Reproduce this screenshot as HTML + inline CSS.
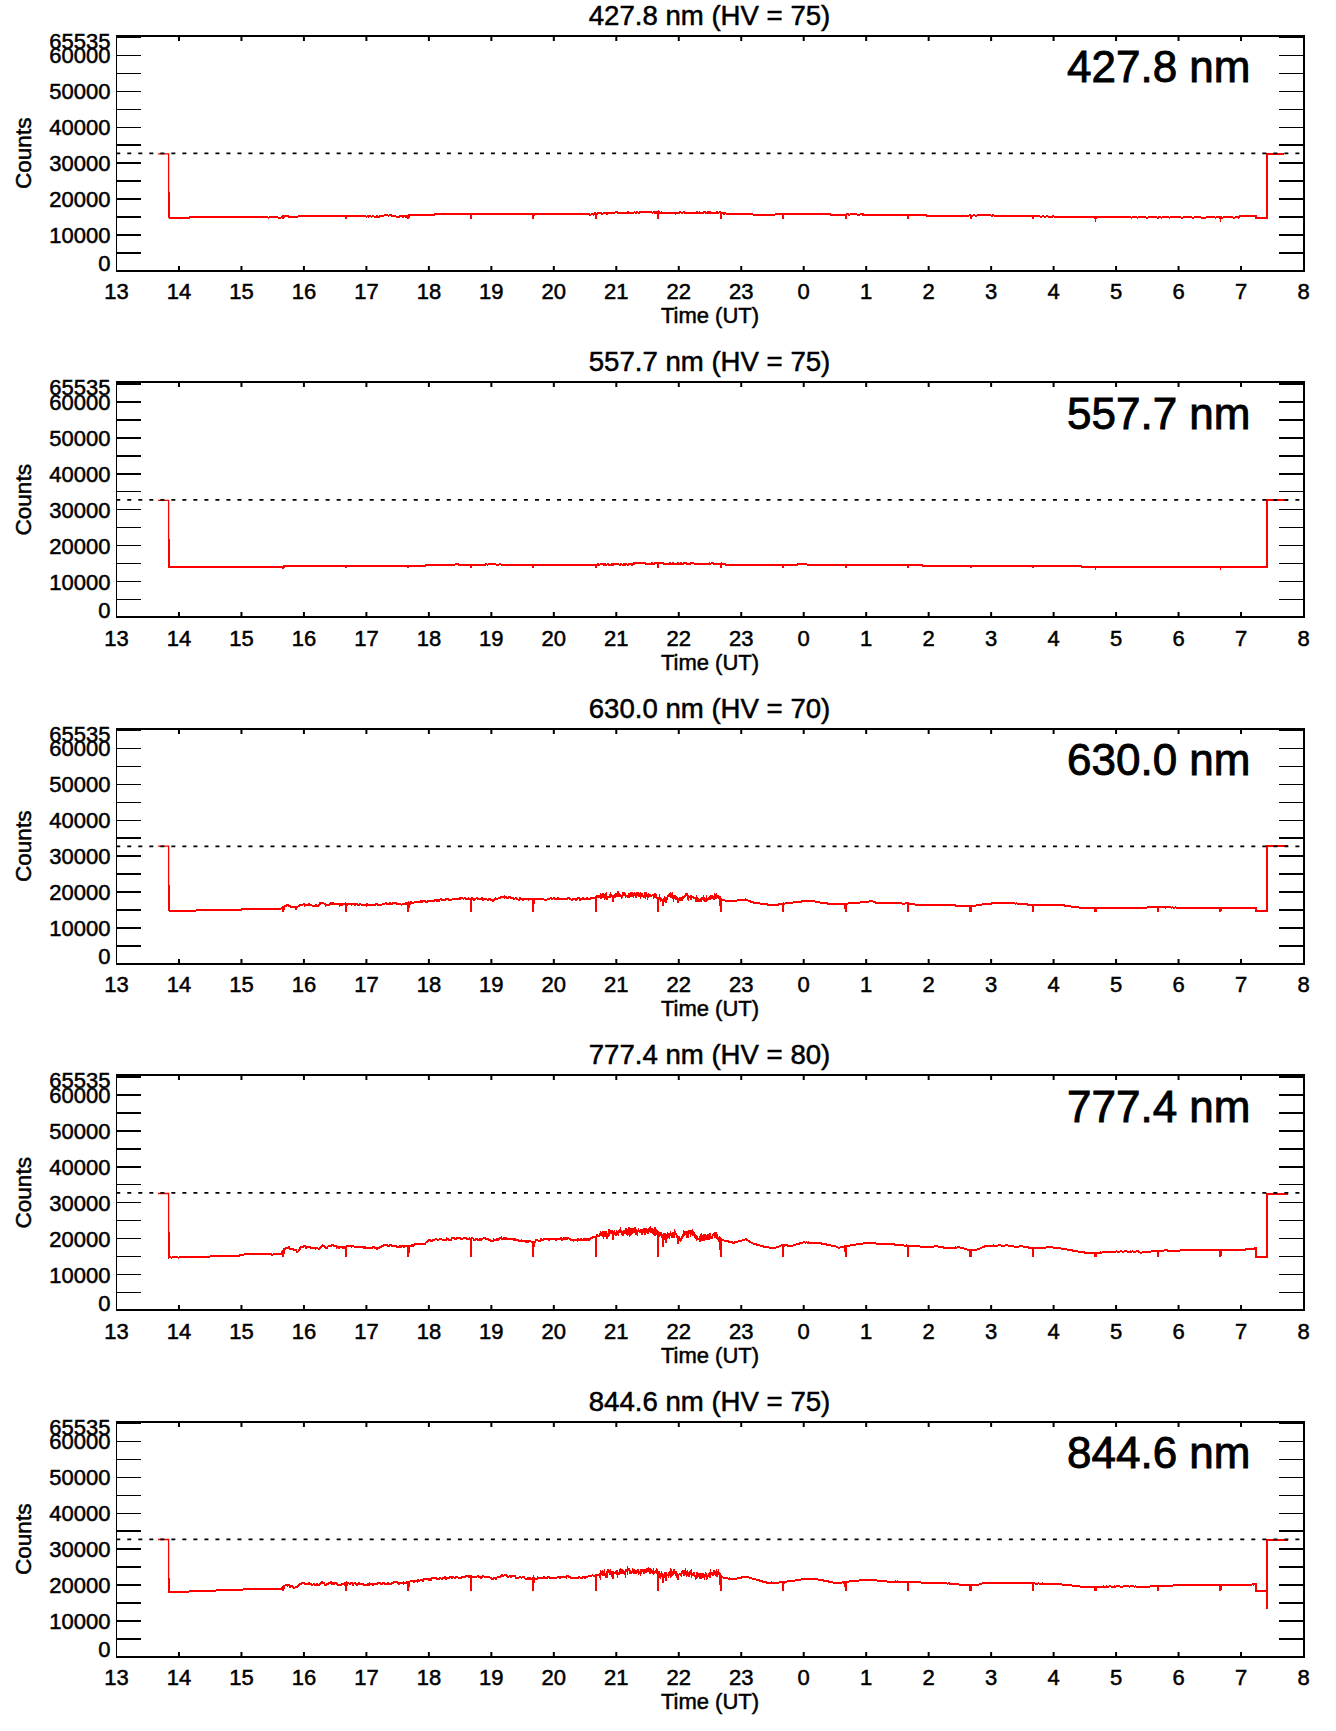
<!DOCTYPE html><html><head><meta charset="utf-8"><style>html,body{margin:0;padding:0;background:#fff;}svg{display:block;}text{font-family:"Liberation Sans",sans-serif;fill:#000;stroke:#000;stroke-width:0.5px;}</style></head><body>
<svg width="1336" height="1731" viewBox="0 0 1336 1731">
<rect width="1336" height="1731" fill="#fff"/>
<g><polyline points="158.0,153.8 168.6,153.8 168.6,192.8" fill="none" stroke="#f00" stroke-width="1.3"/><polyline points="169.0,192.3 169.0,218.3 169.0,218.2 170.0,218.3 171.0,218.4 172.0,218.4 173.0,218.4 174.0,218.3 175.0,218.4 176.0,218.3 177.0,218.2 178.0,218.3 179.0,218.2 180.0,218.4 181.0,218.4 182.0,218.3 183.0,218.2 184.0,218.4 185.0,218.2 186.0,218.2 187.0,218.2 188.0,218.3 189.0,218.3 190.0,216.9 191.0,216.7 192.0,217.0 193.0,216.9 194.0,217.0 195.0,217.0 196.0,216.8 197.0,217.0 198.0,216.9 199.0,216.8 200.0,217.0 201.0,217.1 202.0,217.1 203.0,217.0 204.0,217.2 205.0,217.2 206.0,217.1 207.0,217.1 208.0,217.2 209.0,217.3 210.0,217.1 211.0,217.3 212.0,217.4 213.0,217.3 214.0,217.4 215.0,217.4 216.0,217.3 217.0,217.3 218.0,217.4 219.0,217.4 220.0,217.3 221.0,217.5 222.0,217.3 223.0,217.4 224.0,217.4 225.0,217.4 226.0,217.4 227.0,217.4 228.0,217.2 229.0,217.4 230.0,217.4 231.0,217.3 232.0,217.4 233.0,217.3 234.0,217.3 235.0,217.3 236.0,217.1 237.0,217.3 238.0,217.3 239.0,217.1 240.0,217.3 241.0,217.3 242.0,217.1 243.0,217.1 244.0,217.3 245.0,217.2 246.0,217.2 247.0,217.3 248.0,217.3 249.0,217.3 250.0,217.3 251.0,217.2 252.0,217.1 253.0,217.2 254.0,217.2 255.0,217.3 256.0,217.4 257.0,217.2 258.0,217.3 259.0,217.5 260.0,217.3 261.0,217.4 262.0,217.4 263.0,217.4 264.0,217.4 265.0,217.4 266.0,217.4 267.0,217.3 268.0,217.5 269.0,217.5 270.0,217.3 271.0,217.3 272.0,217.4 273.0,217.3 274.0,217.3 275.0,217.5 276.0,217.3 277.0,217.3 278.0,217.6 279.0,217.5 280.0,217.5 281.0,217.5 282.0,217.2 283.0,216.4 283.3,218.9 283.8,216.4 284.0,216.2 285.0,216.3 286.0,216.3 287.0,216.3 288.0,216.4 289.0,216.6 290.0,216.8 291.0,216.7 292.0,216.9 293.0,216.8 294.0,216.8 295.0,217.0 296.0,216.8 297.0,216.8 298.0,216.5 299.0,216.3 300.0,216.1 301.0,216.1 302.0,216.3 303.0,216.3 304.0,216.1 305.0,216.0 306.0,215.9 307.0,215.9 308.0,215.9 309.0,216.0 310.0,216.0 311.0,216.0 312.0,216.0 313.0,215.8 314.0,215.9 315.0,215.8 316.0,215.9 317.0,215.7 318.0,215.9 319.0,215.6 320.0,215.8 321.0,215.7 322.0,215.8 323.0,215.7 324.0,216.0 325.0,215.7 326.0,216.0 327.0,216.0 328.0,216.0 329.0,215.9 330.0,216.0 331.0,216.1 332.0,216.1 333.0,216.1 334.0,216.3 335.0,216.3 336.0,216.2 337.0,216.3 338.0,216.4 339.0,216.2 340.0,216.3 341.0,216.3 342.0,216.2 343.0,216.3 344.0,216.4 345.0,216.4 346.0,216.3 345.8,218.9 346.3,216.3 347.0,216.3 348.0,216.3 349.0,216.4 350.0,216.5 351.0,216.2 352.0,216.2 353.0,216.4 354.0,216.2 355.0,216.3 356.0,216.3 357.0,216.3 358.0,216.4 359.0,216.3 360.0,216.4 361.0,216.5 362.0,216.3 363.0,216.5 364.0,216.4 365.0,216.3 366.0,216.6 367.0,216.5 368.0,216.4 369.0,216.6 370.0,216.3 371.0,216.6 372.0,216.6 373.0,216.3 374.0,216.6 375.0,216.6 376.0,216.6 377.0,216.4 378.0,216.6 379.0,216.6 380.0,216.4 381.0,216.4 382.0,216.3 383.0,215.8 384.0,215.5 385.0,215.4 386.0,215.5 387.0,215.4 388.0,215.5 389.0,215.5 390.0,215.4 391.0,215.4 392.0,215.6 393.0,216.1 394.0,216.5 395.0,216.4 396.0,216.5 397.0,216.6 398.0,216.6 399.0,216.6 400.0,216.4 401.0,216.5 402.0,216.4 403.0,216.6 404.0,216.4 405.0,216.4 406.0,216.6 407.0,216.4 408.0,215.8 408.3,218.9 408.8,215.8 409.0,215.0 410.0,215.2 411.0,215.1 412.0,215.2 413.0,214.9 414.0,214.9 415.0,215.0 416.0,215.1 417.0,215.0 418.0,215.1 419.0,215.0 420.0,214.8 421.0,214.9 422.0,214.8 423.0,214.8 424.0,214.9 425.0,214.8 426.0,214.9 427.0,214.7 428.0,214.9 429.0,214.7 430.0,214.8 431.0,214.8 432.0,214.5 433.0,214.6 434.0,214.7 435.0,214.4 436.0,214.5 437.0,214.4 438.0,214.3 439.0,214.3 440.0,214.2 441.0,214.2 442.0,214.1 443.0,214.1 444.0,214.2 445.0,214.2 446.0,213.9 447.0,213.8 448.0,213.8 449.0,214.0 450.0,213.7 451.0,213.8 452.0,213.6 453.0,213.6 454.0,213.5 455.0,213.6 456.0,213.5 457.0,213.6 458.0,213.6 459.0,213.7 460.0,213.6 461.0,213.9 462.0,213.8 463.0,214.0 464.0,214.2 465.0,214.2 466.0,214.1 467.0,214.3 468.0,214.1 469.0,214.1 470.0,214.1 471.0,214.1 470.7,218.9 471.2,214.1 472.0,214.0 473.0,214.0 474.0,213.9 475.0,214.1 476.0,214.0 477.0,213.9 478.0,214.0 479.0,213.9 480.0,213.8 481.0,213.8 482.0,213.7 483.0,213.7 484.0,213.6 485.0,213.6 486.0,213.7 487.0,213.8 488.0,213.8 489.0,213.5 490.0,213.7 491.0,213.5 492.0,213.6 493.0,213.6 494.0,213.5 495.0,213.6 496.0,213.6 497.0,213.6 498.0,213.6 499.0,213.7 500.0,213.7 501.0,213.6 502.0,213.7 503.0,213.6 504.0,213.5 505.0,213.8 506.0,213.8 507.0,213.7 508.0,213.8 509.0,213.8 510.0,213.6 511.0,213.9 512.0,213.9 513.0,214.1 514.0,214.0 515.0,214.1 516.0,214.3 517.0,214.2 518.0,214.3 519.0,214.1 520.0,214.3 521.0,214.3 522.0,214.1 523.0,214.1 524.0,214.2 525.0,214.2 526.0,214.2 527.0,214.2 528.0,214.2 529.0,214.3 530.0,214.3 531.0,214.2 532.0,214.2 533.0,214.3 533.2,218.9 533.7,214.2 534.0,214.1 535.0,214.2 536.0,214.3 537.0,214.3 538.0,214.3 539.0,214.3 540.0,214.2 541.0,214.3 542.0,214.1 543.0,214.2 544.0,214.2 545.0,214.3 546.0,214.1 547.0,214.1 548.0,214.2 549.0,214.2 550.0,214.2 551.0,214.3 552.0,214.2 553.0,214.1 554.0,214.2 555.0,214.2 556.0,214.1 557.0,214.2 558.0,214.1 559.0,214.2 560.0,214.3 561.0,214.3 562.0,214.3 563.0,214.1 564.0,214.3 565.0,214.3 566.0,214.1 567.0,214.2 568.0,214.1 569.0,214.1 570.0,214.2 571.0,214.2 572.0,214.2 573.0,214.3 574.0,214.3 575.0,214.1 576.0,214.2 577.0,214.3 578.0,214.1 579.0,214.3 580.0,214.1 581.0,214.2 582.0,214.2 583.0,214.1 584.0,214.1 585.0,214.3 586.0,214.1 587.0,214.2 588.0,214.1 589.0,214.2 590.0,214.8 591.0,214.5 592.0,213.9 593.0,214.6 594.0,213.6 595.0,213.4 596.0,213.5 595.7,218.9 596.2,213.6 597.0,214.1 598.0,213.2 599.0,213.0 600.0,213.3 601.0,213.4 602.0,213.6 603.0,213.5 604.0,213.4 605.0,213.0 606.0,213.1 607.0,213.8 608.0,213.1 609.0,213.5 610.0,212.9 611.0,212.4 612.0,212.9 613.0,213.0 614.0,212.8 615.0,212.5 616.0,212.4 617.0,212.3 618.0,213.1 619.0,212.9 620.0,213.2 621.0,213.3 622.0,213.1 623.0,213.1 624.0,213.2 625.0,213.2 626.0,213.1 627.0,213.1 628.0,212.3 629.0,213.2 630.0,213.0 631.0,212.9 632.0,212.9 633.0,212.7 634.0,212.5 635.0,212.4 636.0,212.9 637.0,212.0 638.0,212.5 639.0,212.9 640.0,212.0 641.0,211.8 642.0,212.0 643.0,212.2 644.0,212.3 645.0,211.9 646.0,211.9 647.0,211.8 648.0,212.3 649.0,211.8 650.0,212.1 651.0,211.8 652.0,212.5 653.0,212.5 654.0,211.9 655.0,213.0 656.0,212.0 657.0,212.9 658.0,212.0 658.1,218.9 658.6,212.3 659.0,212.4 660.0,212.6 661.0,212.6 662.0,212.4 663.0,213.1 664.0,212.9 665.0,212.9 666.0,212.9 667.0,212.6 668.0,212.8 669.0,213.2 670.0,213.2 671.0,213.6 672.0,213.2 673.0,213.6 674.0,212.7 675.0,212.6 676.0,213.6 677.0,212.8 678.0,213.1 679.0,213.5 680.0,212.4 681.0,212.4 682.0,212.9 683.0,212.5 684.0,212.3 685.0,213.3 686.0,213.0 687.0,212.9 688.0,213.2 689.0,212.7 690.0,212.8 691.0,212.8 692.0,213.2 693.0,212.9 694.0,213.1 695.0,213.1 696.0,213.1 697.0,212.3 698.0,213.4 699.0,213.5 700.0,212.4 701.0,213.3 702.0,213.0 703.0,213.3 704.0,212.2 705.0,212.3 706.0,213.0 707.0,213.0 708.0,212.3 709.0,213.3 710.0,212.3 711.0,213.4 712.0,213.3 713.0,213.1 714.0,213.3 715.0,212.5 716.0,213.0 717.0,212.2 718.0,213.2 719.0,212.5 720.0,212.3 721.0,213.4 720.6,218.9 721.1,213.0 722.0,212.5 723.0,213.3 724.0,213.8 725.0,213.3 726.0,213.5 727.0,214.0 728.0,214.2 729.0,214.1 730.0,214.1 731.0,214.3 732.0,214.2 733.0,214.2 734.0,214.2 735.0,214.1 736.0,214.1 737.0,214.0 738.0,214.1 739.0,214.1 740.0,214.0 741.0,214.0 742.0,214.0 743.0,213.9 744.0,214.1 745.0,213.9 746.0,214.1 747.0,214.0 748.0,213.9 749.0,213.9 750.0,214.2 751.0,214.1 752.0,214.2 753.0,214.5 754.0,214.5 755.0,214.5 756.0,214.6 757.0,214.7 758.0,214.8 759.0,214.9 760.0,214.7 761.0,215.0 762.0,215.1 763.0,215.1 764.0,215.0 765.0,214.9 766.0,214.9 767.0,214.8 768.0,214.9 769.0,214.9 770.0,214.8 771.0,214.8 772.0,214.6 773.0,214.7 774.0,214.6 775.0,214.5 776.0,214.3 777.0,214.5 778.0,214.3 779.0,214.3 780.0,214.3 781.0,214.1 782.0,214.1 783.0,214.2 783.1,218.9 783.6,214.2 784.0,214.3 785.0,214.2 786.0,214.2 787.0,214.3 788.0,214.3 789.0,214.2 790.0,214.3 791.0,214.2 792.0,214.1 793.0,214.3 794.0,214.1 795.0,214.1 796.0,214.2 797.0,214.2 798.0,214.3 799.0,214.1 800.0,214.2 801.0,214.1 802.0,214.3 803.0,214.2 804.0,214.3 805.0,214.3 806.0,214.2 807.0,214.1 808.0,214.3 809.0,214.1 810.0,214.3 811.0,214.1 812.0,214.2 813.0,214.2 814.0,214.2 815.0,214.2 816.0,214.3 817.0,214.3 818.0,214.1 819.0,214.2 820.0,214.1 821.0,214.3 822.0,214.2 823.0,214.3 824.0,214.1 825.0,214.3 826.0,214.2 827.0,214.1 828.0,214.1 829.0,214.2 830.0,214.4 831.0,214.6 832.0,214.9 833.0,215.2 834.0,215.0 835.0,215.0 836.0,215.1 837.0,214.8 838.0,214.8 839.0,214.9 840.0,214.8 841.0,214.9 842.0,214.8 843.0,214.6 844.0,214.7 845.0,214.6 846.0,214.6 845.6,218.9 846.1,214.6 847.0,214.4 848.0,214.4 849.0,214.6 850.0,214.5 851.0,214.3 852.0,214.3 853.0,214.5 854.0,214.4 855.0,214.3 856.0,214.4 857.0,214.5 858.0,214.5 859.0,214.5 860.0,214.5 861.0,214.3 862.0,214.6 863.0,214.4 864.0,214.7 865.0,214.7 866.0,214.7 867.0,214.7 868.0,214.8 869.0,214.7 870.0,214.8 871.0,214.9 872.0,214.7 873.0,214.8 874.0,215.0 875.0,214.8 876.0,214.9 877.0,215.1 878.0,215.0 879.0,215.0 880.0,215.1 881.0,215.1 882.0,215.1 883.0,215.3 884.0,215.1 885.0,215.2 886.0,215.3 887.0,215.2 888.0,215.3 889.0,215.3 890.0,215.1 891.0,215.1 892.0,215.1 893.0,215.1 894.0,215.1 895.0,215.2 896.0,215.4 897.0,215.4 898.0,215.3 899.0,215.3 900.0,215.3 901.0,215.4 902.0,215.2 903.0,215.3 904.0,215.2 905.0,215.2 906.0,215.3 907.0,215.3 908.0,215.2 908.0,218.9 908.5,215.3 909.0,215.3 910.0,215.2 911.0,215.2 912.0,215.4 913.0,215.2 914.0,215.2 915.0,215.3 916.0,215.2 917.0,215.4 918.0,215.3 919.0,215.3 920.0,215.3 921.0,215.4 922.0,215.4 923.0,215.4 924.0,215.5 925.0,215.4 926.0,215.4 927.0,215.7 928.0,215.7 929.0,215.7 930.0,215.6 931.0,215.8 932.0,215.6 933.0,215.6 934.0,215.9 935.0,215.8 936.0,215.8 937.0,215.8 938.0,215.9 939.0,215.9 940.0,216.0 941.0,215.9 942.0,216.0 943.0,216.0 944.0,216.1 945.0,216.1 946.0,215.8 947.0,215.9 948.0,216.0 949.0,216.0 950.0,215.9 951.0,215.9 952.0,216.0 953.0,215.8 954.0,215.7 955.0,215.7 956.0,215.7 957.0,215.8 958.0,215.8 959.0,215.9 960.0,215.7 961.0,215.6 962.0,215.6 963.0,215.7 964.0,215.5 965.0,215.5 966.0,215.6 967.0,215.7 968.0,215.5 969.0,215.5 970.0,215.4 971.0,215.7 970.5,218.9 971.0,215.5 972.0,215.6 973.0,215.5 974.0,215.3 975.0,215.6 976.0,215.5 977.0,215.5 978.0,215.4 979.0,215.4 980.0,215.3 981.0,215.4 982.0,215.2 983.0,215.2 984.0,215.3 985.0,215.3 986.0,215.4 987.0,215.4 988.0,215.3 989.0,215.4 990.0,215.3 991.0,215.6 992.0,215.6 993.0,215.4 994.0,215.5 995.0,215.6 996.0,215.7 997.0,215.7 998.0,215.6 999.0,215.7 1000.0,215.8 1001.0,215.9 1002.0,215.7 1003.0,215.7 1004.0,215.9 1005.0,215.9 1006.0,215.8 1007.0,215.9 1008.0,215.9 1009.0,215.8 1010.0,216.0 1011.0,216.1 1012.0,216.0 1013.0,216.2 1014.0,216.2 1015.0,216.0 1016.0,216.2 1017.0,216.2 1018.0,216.2 1019.0,216.1 1020.0,216.2 1021.0,216.3 1022.0,216.2 1023.0,216.4 1024.0,216.3 1025.0,216.3 1026.0,216.3 1027.0,216.3 1028.0,216.2 1029.0,216.3 1030.0,216.2 1031.0,216.3 1032.0,216.2 1033.0,216.3 1033.0,218.9 1033.5,216.3 1034.0,216.4 1035.0,216.5 1036.0,216.4 1037.0,216.4 1038.0,216.5 1039.0,216.3 1040.0,216.5 1041.0,216.6 1042.0,216.5 1043.0,216.4 1044.0,216.5 1045.0,216.6 1046.0,216.5 1047.0,216.4 1048.0,216.5 1049.0,216.6 1050.0,216.5 1051.0,216.5 1052.0,216.7 1053.0,216.4 1054.0,216.5 1055.0,216.7 1056.0,216.7 1057.0,216.7 1058.0,216.8 1059.0,216.6 1060.0,216.7 1061.0,216.6 1062.0,216.7 1063.0,216.6 1064.0,216.8 1065.0,216.6 1066.0,216.8 1067.0,216.7 1068.0,216.8 1069.0,216.7 1070.0,216.6 1071.0,216.7 1072.0,216.7 1073.0,217.0 1074.0,216.8 1075.0,217.1 1076.0,217.0 1077.0,217.1 1078.0,217.3 1079.0,217.3 1080.0,217.3 1081.0,217.3 1082.0,217.3 1083.0,217.4 1084.0,217.4 1085.0,217.4 1086.0,217.3 1087.0,217.4 1088.0,217.4 1089.0,217.3 1090.0,217.4 1091.0,217.3 1092.0,217.4 1093.0,217.3 1094.0,217.4 1095.0,217.3 1095.5,218.9 1096.0,217.4 1096.0,217.4 1097.0,217.4 1098.0,217.5 1099.0,217.3 1100.0,217.3 1101.0,217.4 1102.0,217.5 1103.0,217.3 1104.0,217.5 1105.0,217.3 1106.0,217.4 1107.0,217.3 1108.0,217.4 1109.0,217.5 1110.0,217.4 1111.0,217.3 1112.0,217.4 1113.0,217.5 1114.0,217.3 1115.0,217.5 1116.0,217.4 1117.0,217.5 1118.0,217.3 1119.0,217.5 1120.0,217.3 1121.0,217.5 1122.0,217.3 1123.0,217.3 1124.0,217.3 1125.0,217.3 1126.0,217.5 1127.0,217.3 1128.0,217.4 1129.0,217.4 1130.0,217.3 1131.0,217.5 1132.0,217.5 1133.0,217.4 1134.0,217.3 1135.0,217.3 1136.0,217.4 1137.0,217.5 1138.0,217.5 1139.0,217.3 1140.0,217.3 1141.0,217.5 1142.0,217.4 1143.0,217.3 1144.0,217.5 1145.0,217.3 1146.0,217.5 1147.0,217.5 1148.0,217.5 1149.0,217.3 1150.0,217.4 1151.0,217.5 1152.0,217.3 1153.0,217.3 1154.0,217.3 1155.0,217.4 1156.0,217.4 1157.0,217.5 1158.0,217.5 1157.9,218.9 1158.4,217.4 1159.0,217.4 1160.0,217.4 1161.0,217.5 1162.0,217.5 1163.0,217.3 1164.0,217.3 1165.0,217.4 1166.0,217.3 1167.0,217.5 1168.0,217.3 1169.0,217.5 1170.0,217.5 1171.0,217.4 1172.0,217.4 1173.0,217.4 1174.0,217.3 1175.0,217.5 1176.0,217.4 1177.0,217.4 1178.0,217.3 1179.0,217.4 1180.0,217.4 1181.0,217.5 1182.0,217.5 1183.0,217.5 1184.0,217.3 1185.0,217.4 1186.0,217.4 1187.0,217.5 1188.0,217.3 1189.0,217.3 1190.0,217.3 1191.0,217.3 1192.0,217.5 1193.0,217.5 1194.0,217.5 1195.0,217.4 1196.0,217.4 1197.0,217.3 1198.0,217.4 1199.0,217.4 1200.0,217.4 1201.0,217.5 1202.0,217.5 1203.0,217.5 1204.0,217.5 1205.0,217.5 1206.0,217.5 1207.0,217.4 1208.0,217.5 1209.0,217.3 1210.0,217.4 1211.0,217.4 1212.0,217.3 1213.0,217.5 1214.0,217.3 1215.0,217.5 1216.0,217.5 1217.0,217.3 1218.0,217.5 1219.0,217.4 1220.0,217.5 1220.4,218.9 1220.9,217.4 1221.0,217.3 1222.0,217.5 1223.0,217.5 1224.0,217.4 1225.0,217.4 1226.0,217.4 1227.0,217.3 1228.0,217.5 1229.0,217.4 1230.0,217.4 1231.0,217.4 1232.0,217.3 1233.0,217.5 1234.0,217.5 1235.0,217.5 1236.0,217.4 1237.0,217.4 1238.0,217.5 1239.0,217.5 1240.0,216.2 1241.0,216.2 1242.0,216.2 1243.0,216.0 1244.0,216.1 1245.0,216.1 1246.0,216.0 1247.0,216.1 1248.0,216.0 1249.0,216.1 1250.0,216.0 1251.0,216.1 1252.0,216.0 1253.0,216.2 1254.0,216.0 1255.0,216.0 1256.0,216.1 1256.0,218.1 1266.8,218.1 1266.8,153.8 1284.4,153.8" fill="none" stroke="#f00" stroke-width="2" stroke-linejoin="miter" shape-rendering="crispEdges"/><line x1="116.25" y1="153.3" x2="1303" y2="153.3" stroke="#000" stroke-width="1.8" stroke-dasharray="4,7.02"/><rect x="116" y="35" width="1189" height="2" fill="#000"/><rect x="116" y="270" width="1189" height="2" fill="#000"/><rect x="116" y="35" width="1" height="237" fill="#000"/><rect x="1303" y="35" width="2" height="237" fill="#000"/><line x1="116" y1="271.00" x2="141" y2="271.00" stroke="#000" stroke-width="1.5" shape-rendering="crispEdges"/><line x1="1279" y1="271.00" x2="1304" y2="271.00" stroke="#000" stroke-width="1.5" shape-rendering="crispEdges"/><line x1="116" y1="253.03" x2="141" y2="253.03" stroke="#000" stroke-width="1.5" shape-rendering="crispEdges"/><line x1="1279" y1="253.03" x2="1304" y2="253.03" stroke="#000" stroke-width="1.5" shape-rendering="crispEdges"/><line x1="116" y1="235.07" x2="141" y2="235.07" stroke="#000" stroke-width="1.5" shape-rendering="crispEdges"/><line x1="1279" y1="235.07" x2="1304" y2="235.07" stroke="#000" stroke-width="1.5" shape-rendering="crispEdges"/><line x1="116" y1="217.10" x2="141" y2="217.10" stroke="#000" stroke-width="1.5" shape-rendering="crispEdges"/><line x1="1279" y1="217.10" x2="1304" y2="217.10" stroke="#000" stroke-width="1.5" shape-rendering="crispEdges"/><line x1="116" y1="199.13" x2="141" y2="199.13" stroke="#000" stroke-width="1.5" shape-rendering="crispEdges"/><line x1="1279" y1="199.13" x2="1304" y2="199.13" stroke="#000" stroke-width="1.5" shape-rendering="crispEdges"/><line x1="116" y1="181.16" x2="141" y2="181.16" stroke="#000" stroke-width="1.5" shape-rendering="crispEdges"/><line x1="1279" y1="181.16" x2="1304" y2="181.16" stroke="#000" stroke-width="1.5" shape-rendering="crispEdges"/><line x1="116" y1="163.20" x2="141" y2="163.20" stroke="#000" stroke-width="1.5" shape-rendering="crispEdges"/><line x1="1279" y1="163.20" x2="1304" y2="163.20" stroke="#000" stroke-width="1.5" shape-rendering="crispEdges"/><line x1="116" y1="145.23" x2="141" y2="145.23" stroke="#000" stroke-width="1.5" shape-rendering="crispEdges"/><line x1="1279" y1="145.23" x2="1304" y2="145.23" stroke="#000" stroke-width="1.5" shape-rendering="crispEdges"/><line x1="116" y1="127.26" x2="141" y2="127.26" stroke="#000" stroke-width="1.5" shape-rendering="crispEdges"/><line x1="1279" y1="127.26" x2="1304" y2="127.26" stroke="#000" stroke-width="1.5" shape-rendering="crispEdges"/><line x1="116" y1="109.29" x2="141" y2="109.29" stroke="#000" stroke-width="1.5" shape-rendering="crispEdges"/><line x1="1279" y1="109.29" x2="1304" y2="109.29" stroke="#000" stroke-width="1.5" shape-rendering="crispEdges"/><line x1="116" y1="91.33" x2="141" y2="91.33" stroke="#000" stroke-width="1.5" shape-rendering="crispEdges"/><line x1="1279" y1="91.33" x2="1304" y2="91.33" stroke="#000" stroke-width="1.5" shape-rendering="crispEdges"/><line x1="116" y1="73.36" x2="141" y2="73.36" stroke="#000" stroke-width="1.5" shape-rendering="crispEdges"/><line x1="1279" y1="73.36" x2="1304" y2="73.36" stroke="#000" stroke-width="1.5" shape-rendering="crispEdges"/><line x1="116" y1="55.39" x2="141" y2="55.39" stroke="#000" stroke-width="1.5" shape-rendering="crispEdges"/><line x1="1279" y1="55.39" x2="1304" y2="55.39" stroke="#000" stroke-width="1.5" shape-rendering="crispEdges"/><line x1="116" y1="37.42" x2="141" y2="37.42" stroke="#000" stroke-width="1.5" shape-rendering="crispEdges"/><line x1="1279" y1="37.42" x2="1304" y2="37.42" stroke="#000" stroke-width="1.5" shape-rendering="crispEdges"/><line x1="116" y1="35.50" x2="141" y2="35.50" stroke="#000" stroke-width="1.5" shape-rendering="crispEdges"/><line x1="1279" y1="35.50" x2="1304" y2="35.50" stroke="#000" stroke-width="1.5" shape-rendering="crispEdges"/><rect x="177.97" y="37" width="2" height="4" fill="#000"/><rect x="177.97" y="266" width="2" height="4" fill="#000"/><rect x="240.45" y="37" width="2" height="4" fill="#000"/><rect x="240.45" y="266" width="2" height="4" fill="#000"/><rect x="302.92" y="37" width="2" height="4" fill="#000"/><rect x="302.92" y="266" width="2" height="4" fill="#000"/><rect x="365.39" y="37" width="2" height="4" fill="#000"/><rect x="365.39" y="266" width="2" height="4" fill="#000"/><rect x="427.87" y="37" width="2" height="4" fill="#000"/><rect x="427.87" y="266" width="2" height="4" fill="#000"/><rect x="490.34" y="37" width="2" height="4" fill="#000"/><rect x="490.34" y="266" width="2" height="4" fill="#000"/><rect x="552.82" y="37" width="2" height="4" fill="#000"/><rect x="552.82" y="266" width="2" height="4" fill="#000"/><rect x="615.29" y="37" width="2" height="4" fill="#000"/><rect x="615.29" y="266" width="2" height="4" fill="#000"/><rect x="677.76" y="37" width="2" height="4" fill="#000"/><rect x="677.76" y="266" width="2" height="4" fill="#000"/><rect x="740.24" y="37" width="2" height="4" fill="#000"/><rect x="740.24" y="266" width="2" height="4" fill="#000"/><rect x="802.71" y="37" width="2" height="4" fill="#000"/><rect x="802.71" y="266" width="2" height="4" fill="#000"/><rect x="865.18" y="37" width="2" height="4" fill="#000"/><rect x="865.18" y="266" width="2" height="4" fill="#000"/><rect x="927.66" y="37" width="2" height="4" fill="#000"/><rect x="927.66" y="266" width="2" height="4" fill="#000"/><rect x="990.13" y="37" width="2" height="4" fill="#000"/><rect x="990.13" y="266" width="2" height="4" fill="#000"/><rect x="1052.61" y="37" width="2" height="4" fill="#000"/><rect x="1052.61" y="266" width="2" height="4" fill="#000"/><rect x="1115.08" y="37" width="2" height="4" fill="#000"/><rect x="1115.08" y="266" width="2" height="4" fill="#000"/><rect x="1177.55" y="37" width="2" height="4" fill="#000"/><rect x="1177.55" y="266" width="2" height="4" fill="#000"/><rect x="1240.03" y="37" width="2" height="4" fill="#000"/><rect x="1240.03" y="266" width="2" height="4" fill="#000"/><text x="110.5" y="271.0" font-size="22" text-anchor="end">0</text><text x="110.5" y="243.1" font-size="22" text-anchor="end">10000</text><text x="110.5" y="207.1" font-size="22" text-anchor="end">20000</text><text x="110.5" y="171.2" font-size="22" text-anchor="end">30000</text><text x="110.5" y="135.3" font-size="22" text-anchor="end">40000</text><text x="110.5" y="99.3" font-size="22" text-anchor="end">50000</text><text x="110.5" y="63.4" font-size="22" text-anchor="end">60000</text><text x="110.5" y="48.8" font-size="22" text-anchor="end">65535</text><text x="116.5" y="299.0" font-size="22" text-anchor="middle">13</text><text x="179.0" y="299.0" font-size="22" text-anchor="middle">14</text><text x="241.4" y="299.0" font-size="22" text-anchor="middle">15</text><text x="303.9" y="299.0" font-size="22" text-anchor="middle">16</text><text x="366.4" y="299.0" font-size="22" text-anchor="middle">17</text><text x="428.9" y="299.0" font-size="22" text-anchor="middle">18</text><text x="491.3" y="299.0" font-size="22" text-anchor="middle">19</text><text x="553.8" y="299.0" font-size="22" text-anchor="middle">20</text><text x="616.3" y="299.0" font-size="22" text-anchor="middle">21</text><text x="678.8" y="299.0" font-size="22" text-anchor="middle">22</text><text x="741.2" y="299.0" font-size="22" text-anchor="middle">23</text><text x="803.7" y="299.0" font-size="22" text-anchor="middle">0</text><text x="866.2" y="299.0" font-size="22" text-anchor="middle">1</text><text x="928.7" y="299.0" font-size="22" text-anchor="middle">2</text><text x="991.1" y="299.0" font-size="22" text-anchor="middle">3</text><text x="1053.6" y="299.0" font-size="22" text-anchor="middle">4</text><text x="1116.1" y="299.0" font-size="22" text-anchor="middle">5</text><text x="1178.6" y="299.0" font-size="22" text-anchor="middle">6</text><text x="1241.0" y="299.0" font-size="22" text-anchor="middle">7</text><text x="1303.5" y="299.0" font-size="22" text-anchor="middle">8</text><text x="710" y="323.0" font-size="22" text-anchor="middle">Time (UT)</text><text x="709.5" y="24.7" font-size="27.6" text-anchor="middle">427.8 nm (HV = 75)</text><text transform="translate(31.0,153.30) rotate(-90)" font-size="22.6" text-anchor="middle">Counts</text><text x="1250.5" y="82.2" font-size="44" text-anchor="end" style="stroke-width:0.9px">427.8 nm</text></g>
<g><polyline points="158.0,500.4 168.6,500.4 168.6,539.4" fill="none" stroke="#f00" stroke-width="1.3"/><polyline points="169.0,538.9 169.0,567.2 169.0,567.2 170.0,567.1 171.0,567.3 172.0,567.3 173.0,567.2 174.0,567.2 175.0,567.1 176.0,567.1 177.0,567.1 178.0,567.2 179.0,567.1 180.0,567.3 181.0,567.1 182.0,567.1 183.0,567.1 184.0,567.3 185.0,567.2 186.0,567.2 187.0,567.2 188.0,567.2 189.0,567.2 190.0,567.1 191.0,567.2 192.0,567.2 193.0,567.1 194.0,567.3 195.0,567.2 196.0,567.2 197.0,567.3 198.0,567.2 199.0,567.2 200.0,567.2 201.0,567.2 202.0,567.2 203.0,567.1 204.0,567.2 205.0,567.2 206.0,567.2 207.0,567.1 208.0,567.2 209.0,567.1 210.0,567.2 211.0,567.1 212.0,567.1 213.0,567.1 214.0,567.1 215.0,567.1 216.0,567.2 217.0,567.3 218.0,567.2 219.0,567.2 220.0,567.2 221.0,567.2 222.0,567.3 223.0,567.2 224.0,567.3 225.0,567.2 226.0,567.2 227.0,567.1 228.0,567.1 229.0,567.1 230.0,567.2 231.0,567.3 232.0,567.3 233.0,567.3 234.0,567.1 235.0,567.2 236.0,567.3 237.0,567.3 238.0,567.3 239.0,567.1 240.0,567.1 241.0,567.3 242.0,567.3 243.0,567.3 244.0,567.2 245.0,567.3 246.0,567.1 247.0,567.3 248.0,567.3 249.0,567.2 250.0,567.1 251.0,567.2 252.0,567.2 253.0,567.2 254.0,567.1 255.0,567.1 256.0,567.3 257.0,567.1 258.0,567.3 259.0,567.1 260.0,567.1 261.0,567.1 262.0,567.3 263.0,567.3 264.0,567.2 265.0,567.1 266.0,567.2 267.0,567.3 268.0,567.1 269.0,567.2 270.0,567.3 271.0,567.2 272.0,567.2 273.0,567.3 274.0,567.1 275.0,567.1 276.0,567.2 277.0,567.2 278.0,567.2 279.0,567.2 280.0,567.3 281.0,567.1 282.0,567.2 283.0,567.3 283.3,567.9 283.8,567.2 284.0,566.2 285.0,566.1 286.0,566.1 287.0,566.1 288.0,566.1 289.0,566.1 290.0,566.2 291.0,566.2 292.0,566.2 293.0,566.2 294.0,566.2 295.0,566.2 296.0,566.2 297.0,566.2 298.0,566.2 299.0,566.1 300.0,566.2 301.0,566.2 302.0,566.2 303.0,566.3 304.0,566.1 305.0,566.2 306.0,566.2 307.0,566.2 308.0,566.1 309.0,566.1 310.0,566.3 311.0,566.3 312.0,566.2 313.0,566.2 314.0,566.1 315.0,566.3 316.0,566.3 317.0,566.3 318.0,566.2 319.0,566.3 320.0,566.3 321.0,566.1 322.0,566.2 323.0,566.2 324.0,566.1 325.0,566.2 326.0,566.1 327.0,566.3 328.0,566.3 329.0,566.1 330.0,566.2 331.0,566.1 332.0,566.2 333.0,566.2 334.0,566.3 335.0,566.3 336.0,566.2 337.0,566.3 338.0,566.1 339.0,566.3 340.0,566.2 341.0,566.1 342.0,566.1 343.0,566.1 344.0,566.3 345.0,566.1 346.0,566.1 345.8,567.9 346.3,566.2 347.0,566.1 348.0,566.1 349.0,566.3 350.0,566.2 351.0,566.2 352.0,566.3 353.0,566.2 354.0,566.1 355.0,566.1 356.0,566.2 357.0,566.3 358.0,566.3 359.0,566.2 360.0,566.1 361.0,566.2 362.0,566.3 363.0,566.2 364.0,566.3 365.0,566.3 366.0,566.2 367.0,566.2 368.0,566.1 369.0,566.1 370.0,566.1 371.0,566.2 372.0,566.3 373.0,566.3 374.0,566.2 375.0,566.3 376.0,566.2 377.0,566.1 378.0,566.1 379.0,566.1 380.0,566.2 381.0,566.3 382.0,566.2 383.0,566.1 384.0,566.3 385.0,566.2 386.0,566.2 387.0,566.1 388.0,566.3 389.0,566.3 390.0,566.3 391.0,566.3 392.0,566.2 393.0,566.1 394.0,566.2 395.0,566.3 396.0,566.2 397.0,566.1 398.0,566.1 399.0,566.1 400.0,566.2 401.0,566.3 402.0,566.3 403.0,566.3 404.0,566.3 405.0,566.1 406.0,566.3 407.0,566.1 408.0,566.2 408.3,567.9 408.8,566.2 409.0,566.1 410.0,566.3 411.0,566.1 412.0,566.2 413.0,566.2 414.0,566.2 415.0,566.2 416.0,566.2 417.0,566.3 418.0,566.3 419.0,566.2 420.0,566.3 421.0,566.3 422.0,566.1 423.0,566.2 424.0,566.1 425.0,566.2 426.0,565.4 427.0,565.3 428.0,565.1 429.0,565.3 430.0,565.1 431.0,565.1 432.0,565.1 433.0,565.1 434.0,565.3 435.0,565.3 436.0,565.3 437.0,565.1 438.0,565.2 439.0,565.3 440.0,565.3 441.0,565.1 442.0,565.3 443.0,565.3 444.0,565.2 445.0,565.1 446.0,565.2 447.0,565.3 448.0,565.2 449.0,565.2 450.0,565.3 451.0,565.2 452.0,565.3 453.0,565.1 454.0,564.8 455.0,564.4 456.0,564.3 457.0,564.5 458.0,564.4 459.0,564.6 460.0,564.6 461.0,564.6 462.0,564.8 463.0,564.7 464.0,564.7 465.0,564.9 466.0,564.8 467.0,564.9 468.0,565.0 469.0,564.8 470.0,564.9 471.0,565.0 470.7,567.9 471.2,564.9 472.0,564.9 473.0,564.9 474.0,564.9 475.0,564.7 476.0,564.7 477.0,564.8 478.0,564.8 479.0,564.8 480.0,564.7 481.0,564.6 482.0,564.7 483.0,564.6 484.0,564.6 485.0,564.6 486.0,564.4 487.0,564.5 488.0,564.5 489.0,564.3 490.0,564.3 491.0,564.4 492.0,564.4 493.0,564.3 494.0,564.3 495.0,564.4 496.0,564.5 497.0,564.5 498.0,564.5 499.0,564.5 500.0,564.4 501.0,564.5 502.0,564.6 503.0,564.7 504.0,564.6 505.0,564.6 506.0,564.7 507.0,564.7 508.0,564.7 509.0,564.7 510.0,564.8 511.0,564.9 512.0,564.8 513.0,565.0 514.0,564.9 515.0,565.0 516.0,565.1 517.0,565.0 518.0,565.1 519.0,565.0 520.0,565.0 521.0,565.2 522.0,565.0 523.0,565.2 524.0,565.2 525.0,565.0 526.0,565.2 527.0,565.1 528.0,565.2 529.0,565.1 530.0,565.1 531.0,565.2 532.0,565.2 533.0,565.1 533.2,567.9 533.7,565.1 534.0,565.1 535.0,565.1 536.0,565.1 537.0,565.2 538.0,565.2 539.0,565.0 540.0,565.2 541.0,565.2 542.0,565.0 543.0,565.0 544.0,565.1 545.0,565.2 546.0,565.2 547.0,565.1 548.0,565.1 549.0,565.2 550.0,565.1 551.0,565.0 552.0,565.1 553.0,565.2 554.0,565.2 555.0,565.2 556.0,565.0 557.0,565.1 558.0,565.1 559.0,565.2 560.0,565.1 561.0,565.3 562.0,565.2 563.0,565.2 564.0,565.2 565.0,565.1 566.0,565.3 567.0,565.3 568.0,565.2 569.0,565.2 570.0,565.1 571.0,565.1 572.0,565.1 573.0,565.2 574.0,565.1 575.0,565.3 576.0,565.3 577.0,565.2 578.0,565.2 579.0,565.1 580.0,565.3 581.0,565.1 582.0,565.2 583.0,565.2 584.0,565.2 585.0,565.1 586.0,565.3 587.0,565.1 588.0,565.2 589.0,565.2 590.0,565.4 591.0,564.7 592.0,565.3 593.0,565.2 594.0,565.4 595.0,564.9 596.0,565.0 595.7,567.9 596.2,565.0 597.0,565.3 598.0,564.3 599.0,565.0 600.0,564.6 601.0,564.3 602.0,564.3 603.0,564.2 604.0,564.8 605.0,564.2 606.0,565.0 607.0,564.5 608.0,564.3 609.0,564.8 610.0,564.6 611.0,564.9 612.0,564.1 613.0,564.7 614.0,564.0 615.0,564.2 616.0,564.4 617.0,564.3 618.0,564.3 619.0,564.6 620.0,564.7 621.0,564.4 622.0,564.5 623.0,564.8 624.0,564.2 625.0,565.0 626.0,564.0 627.0,564.4 628.0,564.8 629.0,564.2 630.0,564.3 631.0,564.1 632.0,564.7 633.0,564.4 634.0,563.4 635.0,563.6 636.0,563.0 637.0,562.7 638.0,563.0 639.0,563.5 640.0,563.4 641.0,563.2 642.0,563.6 643.0,563.1 644.0,563.4 645.0,563.3 646.0,564.0 647.0,563.6 648.0,563.9 649.0,563.5 650.0,563.6 651.0,563.7 652.0,563.4 653.0,563.7 654.0,563.9 655.0,563.2 656.0,563.3 657.0,563.1 658.0,563.5 658.1,567.9 658.6,563.5 659.0,563.1 660.0,563.5 661.0,563.2 662.0,563.5 663.0,563.3 664.0,563.7 665.0,563.8 666.0,563.9 667.0,563.4 668.0,563.8 669.0,563.8 670.0,563.2 671.0,563.9 672.0,563.9 673.0,563.1 674.0,563.7 675.0,563.6 676.0,563.6 677.0,563.7 678.0,563.2 679.0,563.8 680.0,563.7 681.0,563.2 682.0,564.0 683.0,563.7 684.0,563.1 685.0,563.0 686.0,563.2 687.0,563.7 688.0,563.8 689.0,564.0 690.0,563.9 691.0,563.3 692.0,563.3 693.0,563.1 694.0,563.5 695.0,563.5 696.0,563.5 697.0,563.9 698.0,563.7 699.0,563.9 700.0,564.0 701.0,563.9 702.0,563.6 703.0,563.5 704.0,563.7 705.0,563.6 706.0,563.8 707.0,564.0 708.0,563.8 709.0,563.4 710.0,563.7 711.0,563.6 712.0,563.3 713.0,563.3 714.0,563.7 715.0,564.3 716.0,564.1 717.0,563.6 718.0,564.5 719.0,564.4 720.0,564.3 721.0,563.8 720.6,567.9 721.1,564.3 722.0,564.2 723.0,564.3 724.0,564.5 725.0,564.2 726.0,564.8 727.0,564.9 728.0,565.0 729.0,564.9 730.0,565.0 731.0,565.0 732.0,565.2 733.0,565.2 734.0,565.2 735.0,565.2 736.0,565.1 737.0,565.1 738.0,565.0 739.0,565.2 740.0,565.2 741.0,565.2 742.0,565.2 743.0,565.2 744.0,565.2 745.0,565.1 746.0,565.0 747.0,565.2 748.0,565.3 749.0,565.2 750.0,565.2 751.0,565.1 752.0,565.2 753.0,565.1 754.0,565.1 755.0,565.2 756.0,565.1 757.0,565.2 758.0,565.2 759.0,565.1 760.0,565.2 761.0,565.1 762.0,565.3 763.0,565.3 764.0,565.2 765.0,565.1 766.0,565.2 767.0,565.2 768.0,565.2 769.0,565.3 770.0,565.2 771.0,565.1 772.0,565.3 773.0,565.2 774.0,565.3 775.0,565.3 776.0,565.2 777.0,565.3 778.0,565.2 779.0,565.3 780.0,565.2 781.0,565.2 782.0,565.3 783.0,565.3 783.1,567.9 783.6,565.3 784.0,565.2 785.0,565.3 786.0,565.2 787.0,565.2 788.0,565.3 789.0,565.3 790.0,565.2 791.0,565.3 792.0,565.4 793.0,565.4 794.0,565.2 795.0,565.2 796.0,565.3 797.0,565.3 798.0,564.3 799.0,564.3 800.0,564.3 801.0,564.4 802.0,564.4 803.0,564.4 804.0,564.2 805.0,564.4 806.0,564.2 807.0,564.5 808.0,564.5 809.0,564.7 810.0,564.6 811.0,564.8 812.0,564.7 813.0,565.0 814.0,564.9 815.0,564.9 816.0,565.0 817.0,565.2 818.0,565.2 819.0,565.4 820.0,565.3 821.0,565.4 822.0,565.4 823.0,565.2 824.0,565.2 825.0,565.2 826.0,565.2 827.0,565.3 828.0,565.4 829.0,565.2 830.0,565.3 831.0,565.2 832.0,565.2 833.0,565.2 834.0,565.2 835.0,565.3 836.0,565.4 837.0,565.2 838.0,565.3 839.0,565.3 840.0,565.3 841.0,565.2 842.0,565.4 843.0,565.2 844.0,565.3 845.0,565.3 846.0,565.3 845.6,567.9 846.1,565.3 847.0,565.4 848.0,565.3 849.0,565.3 850.0,565.4 851.0,565.2 852.0,565.4 853.0,565.3 854.0,565.2 855.0,565.4 856.0,565.4 857.0,565.3 858.0,565.4 859.0,565.2 860.0,565.2 861.0,565.3 862.0,565.4 863.0,565.3 864.0,565.4 865.0,565.3 866.0,565.4 867.0,565.4 868.0,565.2 869.0,565.4 870.0,565.3 871.0,565.2 872.0,565.2 873.0,565.4 874.0,565.3 875.0,565.4 876.0,565.4 877.0,565.3 878.0,565.3 879.0,565.4 880.0,565.4 881.0,565.3 882.0,565.3 883.0,565.2 884.0,565.2 885.0,565.2 886.0,565.3 887.0,565.3 888.0,565.4 889.0,565.4 890.0,565.4 891.0,565.2 892.0,565.4 893.0,565.3 894.0,565.3 895.0,565.3 896.0,565.4 897.0,565.3 898.0,565.2 899.0,565.3 900.0,565.3 901.0,565.3 902.0,565.2 903.0,565.2 904.0,565.2 905.0,565.3 906.0,565.3 907.0,565.3 908.0,565.3 908.0,567.9 908.5,565.3 909.0,565.4 910.0,565.3 911.0,565.4 912.0,565.3 913.0,565.4 914.0,565.2 915.0,565.2 916.0,565.2 917.0,565.3 918.0,565.3 919.0,565.2 920.0,565.2 921.0,565.4 922.0,565.2 923.0,566.2 924.0,566.3 925.0,566.1 926.0,566.2 927.0,566.3 928.0,566.2 929.0,566.3 930.0,566.1 931.0,566.2 932.0,566.3 933.0,566.2 934.0,566.3 935.0,566.3 936.0,566.3 937.0,566.2 938.0,566.2 939.0,566.3 940.0,566.2 941.0,566.1 942.0,566.1 943.0,566.2 944.0,566.1 945.0,566.1 946.0,566.3 947.0,566.2 948.0,566.3 949.0,566.3 950.0,566.3 951.0,566.2 952.0,566.1 953.0,566.1 954.0,566.1 955.0,566.2 956.0,566.2 957.0,566.1 958.0,566.2 959.0,566.2 960.0,566.3 961.0,566.2 962.0,566.3 963.0,566.2 964.0,566.3 965.0,566.1 966.0,566.1 967.0,566.2 968.0,566.1 969.0,566.2 970.0,566.3 971.0,566.2 970.5,567.9 971.0,566.2 972.0,566.1 973.0,566.1 974.0,566.2 975.0,566.2 976.0,566.1 977.0,566.2 978.0,566.3 979.0,566.2 980.0,566.2 981.0,566.3 982.0,566.3 983.0,566.1 984.0,566.1 985.0,566.2 986.0,566.2 987.0,566.1 988.0,566.3 989.0,566.3 990.0,566.2 991.0,566.3 992.0,566.2 993.0,566.2 994.0,566.2 995.0,566.3 996.0,566.3 997.0,566.2 998.0,566.2 999.0,566.3 1000.0,566.3 1001.0,566.2 1002.0,566.1 1003.0,566.1 1004.0,566.2 1005.0,566.1 1006.0,566.2 1007.0,566.2 1008.0,566.1 1009.0,566.1 1010.0,566.2 1011.0,566.3 1012.0,566.1 1013.0,566.3 1014.0,566.2 1015.0,566.1 1016.0,566.3 1017.0,566.1 1018.0,566.2 1019.0,566.1 1020.0,566.1 1021.0,566.2 1022.0,566.2 1023.0,566.2 1024.0,566.3 1025.0,566.2 1026.0,566.2 1027.0,566.3 1028.0,566.2 1029.0,566.2 1030.0,566.2 1031.0,566.3 1032.0,566.1 1033.0,566.1 1033.0,567.9 1033.5,566.2 1034.0,566.2 1035.0,566.3 1036.0,566.2 1037.0,566.1 1038.0,566.2 1039.0,566.1 1040.0,566.2 1041.0,566.3 1042.0,566.3 1043.0,566.3 1044.0,566.1 1045.0,566.3 1046.0,566.1 1047.0,566.3 1048.0,566.3 1049.0,566.3 1050.0,566.3 1051.0,566.3 1052.0,566.3 1053.0,566.3 1054.0,566.1 1055.0,566.1 1056.0,566.2 1057.0,566.1 1058.0,566.3 1059.0,566.2 1060.0,566.3 1061.0,566.1 1062.0,566.2 1063.0,566.3 1064.0,566.3 1065.0,566.1 1066.0,566.1 1067.0,566.3 1068.0,566.3 1069.0,566.2 1070.0,566.1 1071.0,566.3 1072.0,566.3 1073.0,566.2 1074.0,566.3 1075.0,566.2 1076.0,566.3 1077.0,566.1 1078.0,566.1 1079.0,566.3 1080.0,566.3 1081.0,566.1 1082.0,566.8 1083.0,566.8 1084.0,566.8 1085.0,566.8 1086.0,566.8 1087.0,566.9 1088.0,566.7 1089.0,566.7 1090.0,566.9 1091.0,566.7 1092.0,566.8 1093.0,566.8 1094.0,566.8 1095.0,566.7 1095.5,567.9 1096.0,566.8 1096.0,566.8 1097.0,566.8 1098.0,566.9 1099.0,566.8 1100.0,566.9 1101.0,566.8 1102.0,566.9 1103.0,566.8 1104.0,566.9 1105.0,566.7 1106.0,566.8 1107.0,566.9 1108.0,566.7 1109.0,566.9 1110.0,566.7 1111.0,566.9 1112.0,566.7 1113.0,566.7 1114.0,566.8 1115.0,566.7 1116.0,566.8 1117.0,566.8 1118.0,566.9 1119.0,566.8 1120.0,566.9 1121.0,566.8 1122.0,566.8 1123.0,566.8 1124.0,566.8 1125.0,566.9 1126.0,566.8 1127.0,566.8 1128.0,566.8 1129.0,566.7 1130.0,566.8 1131.0,566.9 1132.0,566.8 1133.0,566.8 1134.0,566.9 1135.0,566.9 1136.0,566.9 1137.0,566.7 1138.0,566.8 1139.0,566.8 1140.0,566.8 1141.0,566.8 1142.0,566.8 1143.0,566.9 1144.0,566.7 1145.0,566.7 1146.0,566.8 1147.0,566.7 1148.0,566.8 1149.0,566.7 1150.0,566.9 1151.0,566.7 1152.0,566.8 1153.0,566.9 1154.0,566.8 1155.0,566.8 1156.0,566.7 1157.0,566.9 1158.0,566.9 1157.9,567.9 1158.4,566.8 1159.0,566.8 1160.0,566.7 1161.0,566.7 1162.0,566.9 1163.0,566.9 1164.0,566.9 1165.0,566.8 1166.0,566.9 1167.0,566.9 1168.0,566.9 1169.0,566.9 1170.0,566.7 1171.0,566.7 1172.0,566.7 1173.0,566.9 1174.0,566.8 1175.0,566.7 1176.0,566.8 1177.0,566.7 1178.0,566.8 1179.0,566.8 1180.0,566.8 1181.0,566.8 1182.0,566.8 1183.0,566.9 1184.0,566.9 1185.0,566.8 1186.0,566.7 1187.0,566.8 1188.0,566.7 1189.0,566.7 1190.0,566.7 1191.0,566.8 1192.0,566.9 1193.0,566.8 1194.0,566.9 1195.0,566.8 1196.0,566.9 1197.0,566.8 1198.0,566.9 1199.0,566.8 1200.0,566.7 1201.0,566.9 1202.0,566.9 1203.0,566.9 1204.0,566.8 1205.0,566.9 1206.0,566.8 1207.0,566.8 1208.0,566.8 1209.0,566.8 1210.0,566.7 1211.0,566.9 1212.0,566.9 1213.0,566.8 1214.0,566.8 1215.0,566.7 1216.0,566.9 1217.0,566.7 1218.0,566.8 1219.0,566.7 1220.0,566.9 1220.4,567.9 1220.9,566.8 1221.0,566.8 1222.0,566.9 1223.0,566.8 1224.0,566.8 1225.0,566.9 1226.0,566.7 1227.0,566.7 1228.0,566.7 1229.0,566.8 1230.0,566.7 1231.0,566.8 1232.0,566.8 1233.0,566.9 1234.0,566.9 1235.0,566.7 1236.0,566.7 1237.0,566.8 1238.0,566.8 1239.0,566.9 1240.0,566.8 1241.0,566.9 1242.0,566.8 1243.0,566.8 1244.0,566.8 1245.0,566.9 1246.0,566.9 1247.0,566.9 1248.0,566.7 1249.0,566.7 1250.0,566.7 1251.0,566.8 1252.0,566.9 1253.0,566.7 1254.0,566.8 1255.0,566.9 1256.0,567.2 1256.0,567.2 1266.8,567.2 1266.8,500.4 1287.7,500.4" fill="none" stroke="#f00" stroke-width="2" stroke-linejoin="miter" shape-rendering="crispEdges"/><line x1="116.25" y1="499.8" x2="1303" y2="499.8" stroke="#000" stroke-width="1.8" stroke-dasharray="4,7.02"/><rect x="116" y="381" width="1189" height="2" fill="#000"/><rect x="116" y="616" width="1189" height="2" fill="#000"/><rect x="116" y="381" width="1" height="237" fill="#000"/><rect x="1303" y="381" width="2" height="237" fill="#000"/><line x1="116" y1="617.50" x2="141" y2="617.50" stroke="#000" stroke-width="1.5" shape-rendering="crispEdges"/><line x1="1279" y1="617.50" x2="1304" y2="617.50" stroke="#000" stroke-width="1.5" shape-rendering="crispEdges"/><line x1="116" y1="599.53" x2="141" y2="599.53" stroke="#000" stroke-width="1.5" shape-rendering="crispEdges"/><line x1="1279" y1="599.53" x2="1304" y2="599.53" stroke="#000" stroke-width="1.5" shape-rendering="crispEdges"/><line x1="116" y1="581.57" x2="141" y2="581.57" stroke="#000" stroke-width="1.5" shape-rendering="crispEdges"/><line x1="1279" y1="581.57" x2="1304" y2="581.57" stroke="#000" stroke-width="1.5" shape-rendering="crispEdges"/><line x1="116" y1="563.60" x2="141" y2="563.60" stroke="#000" stroke-width="1.5" shape-rendering="crispEdges"/><line x1="1279" y1="563.60" x2="1304" y2="563.60" stroke="#000" stroke-width="1.5" shape-rendering="crispEdges"/><line x1="116" y1="545.63" x2="141" y2="545.63" stroke="#000" stroke-width="1.5" shape-rendering="crispEdges"/><line x1="1279" y1="545.63" x2="1304" y2="545.63" stroke="#000" stroke-width="1.5" shape-rendering="crispEdges"/><line x1="116" y1="527.66" x2="141" y2="527.66" stroke="#000" stroke-width="1.5" shape-rendering="crispEdges"/><line x1="1279" y1="527.66" x2="1304" y2="527.66" stroke="#000" stroke-width="1.5" shape-rendering="crispEdges"/><line x1="116" y1="509.70" x2="141" y2="509.70" stroke="#000" stroke-width="1.5" shape-rendering="crispEdges"/><line x1="1279" y1="509.70" x2="1304" y2="509.70" stroke="#000" stroke-width="1.5" shape-rendering="crispEdges"/><line x1="116" y1="491.73" x2="141" y2="491.73" stroke="#000" stroke-width="1.5" shape-rendering="crispEdges"/><line x1="1279" y1="491.73" x2="1304" y2="491.73" stroke="#000" stroke-width="1.5" shape-rendering="crispEdges"/><line x1="116" y1="473.76" x2="141" y2="473.76" stroke="#000" stroke-width="1.5" shape-rendering="crispEdges"/><line x1="1279" y1="473.76" x2="1304" y2="473.76" stroke="#000" stroke-width="1.5" shape-rendering="crispEdges"/><line x1="116" y1="455.79" x2="141" y2="455.79" stroke="#000" stroke-width="1.5" shape-rendering="crispEdges"/><line x1="1279" y1="455.79" x2="1304" y2="455.79" stroke="#000" stroke-width="1.5" shape-rendering="crispEdges"/><line x1="116" y1="437.83" x2="141" y2="437.83" stroke="#000" stroke-width="1.5" shape-rendering="crispEdges"/><line x1="1279" y1="437.83" x2="1304" y2="437.83" stroke="#000" stroke-width="1.5" shape-rendering="crispEdges"/><line x1="116" y1="419.86" x2="141" y2="419.86" stroke="#000" stroke-width="1.5" shape-rendering="crispEdges"/><line x1="1279" y1="419.86" x2="1304" y2="419.86" stroke="#000" stroke-width="1.5" shape-rendering="crispEdges"/><line x1="116" y1="401.89" x2="141" y2="401.89" stroke="#000" stroke-width="1.5" shape-rendering="crispEdges"/><line x1="1279" y1="401.89" x2="1304" y2="401.89" stroke="#000" stroke-width="1.5" shape-rendering="crispEdges"/><line x1="116" y1="383.92" x2="141" y2="383.92" stroke="#000" stroke-width="1.5" shape-rendering="crispEdges"/><line x1="1279" y1="383.92" x2="1304" y2="383.92" stroke="#000" stroke-width="1.5" shape-rendering="crispEdges"/><line x1="116" y1="382.00" x2="141" y2="382.00" stroke="#000" stroke-width="1.5" shape-rendering="crispEdges"/><line x1="1279" y1="382.00" x2="1304" y2="382.00" stroke="#000" stroke-width="1.5" shape-rendering="crispEdges"/><rect x="177.97" y="383" width="2" height="4" fill="#000"/><rect x="177.97" y="612" width="2" height="4" fill="#000"/><rect x="240.45" y="383" width="2" height="4" fill="#000"/><rect x="240.45" y="612" width="2" height="4" fill="#000"/><rect x="302.92" y="383" width="2" height="4" fill="#000"/><rect x="302.92" y="612" width="2" height="4" fill="#000"/><rect x="365.39" y="383" width="2" height="4" fill="#000"/><rect x="365.39" y="612" width="2" height="4" fill="#000"/><rect x="427.87" y="383" width="2" height="4" fill="#000"/><rect x="427.87" y="612" width="2" height="4" fill="#000"/><rect x="490.34" y="383" width="2" height="4" fill="#000"/><rect x="490.34" y="612" width="2" height="4" fill="#000"/><rect x="552.82" y="383" width="2" height="4" fill="#000"/><rect x="552.82" y="612" width="2" height="4" fill="#000"/><rect x="615.29" y="383" width="2" height="4" fill="#000"/><rect x="615.29" y="612" width="2" height="4" fill="#000"/><rect x="677.76" y="383" width="2" height="4" fill="#000"/><rect x="677.76" y="612" width="2" height="4" fill="#000"/><rect x="740.24" y="383" width="2" height="4" fill="#000"/><rect x="740.24" y="612" width="2" height="4" fill="#000"/><rect x="802.71" y="383" width="2" height="4" fill="#000"/><rect x="802.71" y="612" width="2" height="4" fill="#000"/><rect x="865.18" y="383" width="2" height="4" fill="#000"/><rect x="865.18" y="612" width="2" height="4" fill="#000"/><rect x="927.66" y="383" width="2" height="4" fill="#000"/><rect x="927.66" y="612" width="2" height="4" fill="#000"/><rect x="990.13" y="383" width="2" height="4" fill="#000"/><rect x="990.13" y="612" width="2" height="4" fill="#000"/><rect x="1052.61" y="383" width="2" height="4" fill="#000"/><rect x="1052.61" y="612" width="2" height="4" fill="#000"/><rect x="1115.08" y="383" width="2" height="4" fill="#000"/><rect x="1115.08" y="612" width="2" height="4" fill="#000"/><rect x="1177.55" y="383" width="2" height="4" fill="#000"/><rect x="1177.55" y="612" width="2" height="4" fill="#000"/><rect x="1240.03" y="383" width="2" height="4" fill="#000"/><rect x="1240.03" y="612" width="2" height="4" fill="#000"/><text x="110.5" y="617.5" font-size="22" text-anchor="end">0</text><text x="110.5" y="589.6" font-size="22" text-anchor="end">10000</text><text x="110.5" y="553.6" font-size="22" text-anchor="end">20000</text><text x="110.5" y="517.7" font-size="22" text-anchor="end">30000</text><text x="110.5" y="481.8" font-size="22" text-anchor="end">40000</text><text x="110.5" y="445.8" font-size="22" text-anchor="end">50000</text><text x="110.5" y="409.9" font-size="22" text-anchor="end">60000</text><text x="110.5" y="395.3" font-size="22" text-anchor="end">65535</text><text x="116.5" y="645.5" font-size="22" text-anchor="middle">13</text><text x="179.0" y="645.5" font-size="22" text-anchor="middle">14</text><text x="241.4" y="645.5" font-size="22" text-anchor="middle">15</text><text x="303.9" y="645.5" font-size="22" text-anchor="middle">16</text><text x="366.4" y="645.5" font-size="22" text-anchor="middle">17</text><text x="428.9" y="645.5" font-size="22" text-anchor="middle">18</text><text x="491.3" y="645.5" font-size="22" text-anchor="middle">19</text><text x="553.8" y="645.5" font-size="22" text-anchor="middle">20</text><text x="616.3" y="645.5" font-size="22" text-anchor="middle">21</text><text x="678.8" y="645.5" font-size="22" text-anchor="middle">22</text><text x="741.2" y="645.5" font-size="22" text-anchor="middle">23</text><text x="803.7" y="645.5" font-size="22" text-anchor="middle">0</text><text x="866.2" y="645.5" font-size="22" text-anchor="middle">1</text><text x="928.7" y="645.5" font-size="22" text-anchor="middle">2</text><text x="991.1" y="645.5" font-size="22" text-anchor="middle">3</text><text x="1053.6" y="645.5" font-size="22" text-anchor="middle">4</text><text x="1116.1" y="645.5" font-size="22" text-anchor="middle">5</text><text x="1178.6" y="645.5" font-size="22" text-anchor="middle">6</text><text x="1241.0" y="645.5" font-size="22" text-anchor="middle">7</text><text x="1303.5" y="645.5" font-size="22" text-anchor="middle">8</text><text x="710" y="669.5" font-size="22" text-anchor="middle">Time (UT)</text><text x="709.5" y="371.2" font-size="27.6" text-anchor="middle">557.7 nm (HV = 75)</text><text transform="translate(31.0,499.80) rotate(-90)" font-size="22.6" text-anchor="middle">Counts</text><text x="1250.5" y="428.7" font-size="44" text-anchor="end" style="stroke-width:0.9px">557.7 nm</text></g>
<g><polyline points="158.0,846.1 168.6,846.1 168.6,885.1" fill="none" stroke="#f00" stroke-width="1.3"/><polyline points="169.0,884.6 169.0,911.2 169.0,911.1 170.0,911.2 171.0,911.1 172.0,911.2 173.0,911.1 174.0,911.0 175.0,911.0 176.0,911.0 177.0,910.9 178.0,910.9 179.0,910.9 180.0,910.9 181.0,910.9 182.0,910.9 183.0,910.8 184.0,910.7 185.0,910.6 186.0,910.8 187.0,910.7 188.0,910.7 189.0,910.6 190.0,910.6 191.0,910.5 192.0,910.6 193.0,910.5 194.0,910.6 195.0,910.5 196.0,910.5 197.0,910.4 198.0,910.4 199.0,910.4 200.0,910.5 201.0,910.4 202.0,910.5 203.0,910.4 204.0,910.3 205.0,910.4 206.0,910.3 207.0,910.2 208.0,910.3 209.0,910.3 210.0,910.3 211.0,910.3 212.0,910.2 213.0,910.3 214.0,910.3 215.0,910.3 216.0,910.2 217.0,910.1 218.0,910.2 219.0,910.1 220.0,910.1 221.0,910.2 222.0,910.1 223.0,910.0 224.0,910.1 225.0,910.1 226.0,910.1 227.0,910.0 228.0,910.0 229.0,910.1 230.0,910.0 231.0,909.9 232.0,910.0 233.0,910.0 234.0,909.8 235.0,909.8 236.0,909.9 237.0,909.9 238.0,909.8 239.0,909.7 240.0,909.8 241.0,909.7 242.0,909.4 243.0,909.3 244.0,909.3 245.0,909.0 246.0,909.0 247.0,908.8 248.0,908.7 249.0,908.6 250.0,908.6 251.0,908.7 252.0,908.6 253.0,908.6 254.0,908.6 255.0,908.7 256.0,908.7 257.0,908.8 258.0,908.7 259.0,908.6 260.0,908.6 261.0,908.7 262.0,908.8 263.0,908.6 264.0,908.7 265.0,908.8 266.0,908.8 267.0,908.7 268.0,908.8 269.0,908.7 270.0,908.6 271.0,908.6 272.0,908.6 273.0,908.8 274.0,908.7 275.0,908.8 276.0,908.8 277.0,908.8 278.0,908.7 279.0,908.6 280.0,908.6 281.0,908.6 282.0,908.0 283.0,907.3 283.3,911.8 283.8,907.0 284.0,907.0 285.0,906.2 286.0,906.2 287.0,905.3 288.0,905.2 289.0,906.1 290.0,905.5 291.0,906.7 292.0,906.9 293.0,907.5 294.0,906.6 295.0,907.1 296.0,908.7 297.0,906.8 298.0,906.6 299.0,906.1 300.0,905.2 301.0,905.3 302.0,905.5 303.0,904.6 304.0,904.3 305.0,905.6 306.0,904.9 307.0,904.7 308.0,904.6 309.0,904.4 310.0,905.4 311.0,905.0 312.0,905.5 313.0,906.1 314.0,905.5 315.0,906.3 316.0,904.9 317.0,906.1 318.0,905.6 319.0,905.4 320.0,903.3 321.0,903.5 322.0,903.0 323.0,903.2 324.0,903.6 325.0,903.9 326.0,905.5 327.0,905.3 328.0,904.7 329.0,904.8 330.0,903.8 331.0,902.9 332.0,904.0 333.0,903.2 334.0,904.3 335.0,904.3 336.0,903.7 337.0,903.8 338.0,903.8 339.0,904.1 340.0,905.5 341.0,904.2 342.0,905.2 343.0,904.0 344.0,904.2 345.0,904.4 346.0,904.2 345.8,911.8 346.3,904.4 347.0,905.1 348.0,903.9 349.0,904.2 350.0,903.7 351.0,903.6 352.0,904.6 353.0,904.1 354.0,904.3 355.0,904.7 356.0,903.8 357.0,903.7 358.0,904.8 359.0,905.3 360.0,903.8 361.0,904.5 362.0,905.4 363.0,905.2 364.0,905.5 365.0,904.8 366.0,905.6 367.0,904.1 368.0,904.7 369.0,905.3 370.0,904.5 371.0,904.6 372.0,904.6 373.0,904.5 374.0,905.1 375.0,905.4 376.0,904.2 377.0,904.3 378.0,905.0 379.0,904.9 380.0,905.0 381.0,904.8 382.0,904.6 383.0,904.3 384.0,903.9 385.0,903.4 386.0,903.0 387.0,904.3 388.0,904.3 389.0,904.3 390.0,903.3 391.0,904.1 392.0,904.4 393.0,903.2 394.0,902.9 395.0,903.2 396.0,903.3 397.0,904.0 398.0,904.2 399.0,904.2 400.0,904.0 401.0,904.5 402.0,904.5 403.0,903.6 404.0,904.4 405.0,904.1 406.0,903.3 407.0,903.8 408.0,903.0 408.3,911.8 408.8,903.5 409.0,903.2 410.0,903.7 411.0,902.3 412.0,903.0 413.0,902.8 414.0,902.4 415.0,901.9 416.0,902.5 417.0,902.1 418.0,901.6 419.0,901.9 420.0,902.2 421.0,901.2 422.0,902.2 423.0,900.9 424.0,901.4 425.0,901.1 426.0,901.8 427.0,901.7 428.0,901.4 429.0,900.6 430.0,900.6 431.0,901.3 432.0,900.7 433.0,900.8 434.0,900.9 435.0,900.0 436.0,900.2 437.0,901.0 438.0,900.0 439.0,900.7 440.0,899.5 441.0,899.2 442.0,899.9 443.0,899.5 444.0,899.9 445.0,900.1 446.0,898.9 447.0,899.5 448.0,899.2 449.0,900.0 450.0,899.8 451.0,899.8 452.0,899.5 453.0,898.8 454.0,899.1 455.0,898.9 456.0,898.6 457.0,898.5 458.0,899.0 459.0,899.4 460.0,898.4 461.0,898.6 462.0,898.3 463.0,898.6 464.0,898.6 465.0,898.1 466.0,899.0 467.0,898.6 468.0,899.3 469.0,898.4 470.0,899.2 471.0,899.6 470.7,911.8 471.2,898.8 472.0,898.3 473.0,898.6 474.0,899.6 475.0,898.6 476.0,898.5 477.0,898.2 478.0,899.3 479.0,898.5 480.0,899.4 481.0,898.9 482.0,898.3 483.0,899.6 484.0,899.4 485.0,899.2 486.0,899.0 487.0,899.4 488.0,899.9 489.0,898.8 490.0,899.1 491.0,900.1 492.0,899.7 493.0,900.7 494.0,900.2 495.0,899.4 496.0,898.4 497.0,898.8 498.0,898.4 499.0,898.0 500.0,898.0 501.0,897.1 502.0,897.4 503.0,897.0 504.0,896.4 505.0,897.6 506.0,896.8 507.0,898.1 508.0,898.3 509.0,897.3 510.0,897.4 511.0,898.4 512.0,898.2 513.0,898.2 514.0,898.9 515.0,898.4 516.0,898.2 517.0,898.9 518.0,899.5 519.0,899.6 520.0,898.3 521.0,899.3 522.0,898.7 523.0,899.7 524.0,898.8 525.0,898.4 526.0,898.8 527.0,899.1 528.0,898.6 529.0,899.6 530.0,898.9 531.0,899.6 532.0,898.8 533.0,899.2 533.2,911.8 533.7,899.2 534.0,899.4 535.0,898.7 536.0,898.8 537.0,899.6 538.0,898.9 539.0,898.8 540.0,899.2 541.0,899.3 542.0,899.5 543.0,899.0 544.0,899.5 545.0,899.5 546.0,899.5 547.0,899.5 548.0,899.1 549.0,899.1 550.0,898.5 551.0,898.1 552.0,899.3 553.0,898.5 554.0,898.4 555.0,898.7 556.0,899.0 557.0,899.1 558.0,897.9 559.0,898.9 560.0,899.2 561.0,899.2 562.0,899.1 563.0,898.5 564.0,899.0 565.0,898.5 566.0,898.9 567.0,899.2 568.0,898.3 569.0,898.1 570.0,899.2 571.0,899.6 572.0,899.7 573.0,899.1 574.0,899.1 575.0,898.5 576.0,899.7 577.0,898.7 578.0,898.4 579.0,898.4 580.0,899.7 581.0,898.8 582.0,899.4 583.0,898.2 584.0,898.8 585.0,899.2 586.0,899.2 587.0,898.3 588.0,898.7 589.0,899.1 590.0,899.1 591.0,897.6 592.0,898.1 593.0,898.4 594.0,897.8 595.0,897.9 596.0,896.9 595.7,911.8 596.2,897.2 597.0,897.1 598.0,896.2 599.0,897.4 600.0,897.1 600.7,895.2 601.4,898.8 602.1,895.2 602.8,894.3 603.5,897.5 604.2,894.4 604.9,897.1 605.6,894.5 606.3,893.9 606.6,900.2 606.9,896.2 607.0,897.2 607.7,896.6 608.4,896.7 609.1,896.9 609.8,896.9 610.5,894.2 611.2,895.3 611.9,896.1 612.6,897.4 612.9,901.6 613.2,895.6 613.3,896.3 614.0,895.5 614.7,897.1 615.4,897.1 616.1,894.3 616.8,893.9 617.5,893.0 618.2,897.1 618.9,893.9 619.6,895.7 620.3,895.4 621.0,896.0 621.7,897.3 622.4,895.9 623.1,893.6 623.8,894.8 624.5,893.6 625.2,894.5 625.9,896.2 626.6,895.7 627.3,895.6 628.0,896.7 628.7,897.3 629.4,893.7 630.1,895.9 630.8,895.6 631.5,892.6 632.2,897.2 632.9,894.4 633.6,895.7 634.3,893.5 635.0,894.5 635.7,893.0 636.0,897.8 636.3,894.8 636.4,897.0 637.1,892.6 637.8,892.7 638.5,895.8 639.2,895.1 639.9,893.9 640.6,896.8 641.3,895.7 642.0,894.5 642.7,895.8 643.4,897.0 644.1,896.7 644.8,894.3 645.5,896.3 646.2,893.7 646.9,894.6 647.6,897.5 648.3,896.3 649.0,894.8 649.7,895.5 650.4,895.0 651.1,896.4 651.8,895.5 652.5,895.3 653.2,895.1 653.9,897.4 654.6,897.1 655.3,894.4 656.0,895.3 656.7,898.2 657.4,897.9 658.1,897.8 658.1,911.8 658.6,897.3 658.8,898.4 659.5,896.8 660.2,899.1 660.9,900.4 661.6,899.4 662.3,899.8 663.0,900.4 663.3,905.7 663.6,900.7 663.7,901.1 664.4,898.7 665.1,901.0 665.8,896.8 666.1,902.9 666.4,898.9 666.5,899.7 667.2,898.0 667.9,896.1 668.6,895.5 669.3,895.1 670.0,894.0 670.7,897.4 671.4,894.3 672.1,893.8 672.8,897.0 673.5,898.9 674.2,896.0 674.9,896.2 675.6,898.3 676.3,897.5 677.0,898.5 677.7,899.5 678.0,903.1 678.3,899.1 678.4,901.8 679.1,898.5 679.8,898.1 680.5,899.4 681.2,898.4 681.9,899.5 682.6,897.0 683.3,897.6 684.0,896.7 684.7,896.8 685.4,895.9 686.1,894.2 686.8,894.1 687.5,895.6 688.2,898.7 688.9,896.5 689.6,896.6 690.3,896.5 691.0,898.2 691.7,896.4 692.4,896.7 693.1,896.6 693.8,897.9 694.5,897.6 695.2,898.4 695.9,900.2 696.6,897.5 697.3,899.0 698.0,900.9 698.7,899.9 699.4,900.5 700.1,900.6 700.4,902.1 700.7,899.1 700.8,897.7 701.5,899.7 702.2,898.3 702.9,898.2 703.6,897.0 704.3,900.1 705.0,900.7 705.7,900.3 706.4,898.1 707.1,900.4 707.8,899.7 708.5,898.7 709.2,899.5 709.9,899.3 710.6,895.5 711.3,898.4 712.0,898.4 712.7,896.9 713.4,899.0 714.1,898.6 714.8,895.4 715.5,896.7 716.2,895.0 716.9,897.1 717.6,896.1 718.3,895.8 719.0,897.6 719.7,899.8 720.4,899.0 720.6,911.8 721.1,899.1 721.4,899.6 722.4,899.8 723.4,900.3 724.4,900.3 725.4,900.6 726.4,900.6 727.4,900.9 728.4,900.9 729.4,901.0 730.4,901.3 731.4,901.0 732.4,900.9 733.4,900.8 734.4,900.8 735.4,900.7 736.4,900.5 737.4,900.5 738.4,900.4 739.4,900.1 740.4,900.2 741.4,899.9 742.4,899.7 743.4,899.7 744.4,899.6 745.4,899.5 746.4,899.9 747.4,900.1 748.4,900.7 749.4,900.9 750.4,901.6 751.4,901.8 752.4,902.1 753.4,902.5 754.4,902.6 755.4,902.7 756.4,903.0 757.4,903.0 758.4,903.3 759.4,903.4 760.4,903.6 761.4,903.7 762.4,903.7 763.4,903.9 764.4,904.0 765.4,904.2 766.4,904.3 767.4,904.5 768.4,904.5 769.4,904.6 770.4,904.8 771.4,904.8 772.4,904.9 773.4,905.0 774.4,905.3 775.4,905.2 776.4,904.9 777.4,904.7 778.4,904.6 779.4,904.1 780.4,904.0 781.4,903.8 782.4,903.7 783.4,903.5 783.1,911.8 783.6,903.6 784.4,903.6 785.4,903.4 786.4,903.3 787.4,903.0 788.4,902.9 789.4,903.0 790.4,902.8 791.4,902.8 792.4,902.7 793.4,902.4 794.4,902.4 795.4,902.3 796.4,902.3 797.4,902.1 798.4,902.1 799.4,901.7 800.4,901.6 801.4,901.6 802.4,901.2 803.4,901.1 804.4,901.2 805.4,901.1 806.4,901.1 807.4,901.3 808.4,901.3 809.4,901.3 810.4,901.3 811.4,901.3 812.4,901.2 813.4,901.3 814.4,901.4 815.4,901.6 816.4,901.8 817.4,902.0 818.4,902.2 819.4,902.4 820.4,902.5 821.4,902.6 822.4,902.9 823.4,903.2 824.4,903.1 825.4,903.4 826.4,903.4 827.4,903.5 828.4,903.7 829.4,903.6 830.4,903.7 831.4,903.9 832.4,903.9 833.4,904.0 834.4,903.9 835.4,904.0 836.4,904.2 837.4,904.0 838.4,904.0 839.4,904.0 840.4,904.2 841.4,904.1 842.4,904.0 843.4,904.0 844.4,903.7 845.4,903.9 845.6,911.8 846.1,903.8 846.4,903.8 847.4,903.7 848.4,903.4 849.4,903.3 850.4,903.2 851.4,903.2 852.4,903.1 853.4,903.0 854.4,903.1 855.4,903.0 856.4,902.9 857.4,902.6 858.4,902.5 859.4,902.5 860.4,902.5 861.4,902.4 862.4,902.3 863.4,902.0 864.4,902.0 865.4,901.8 866.4,901.9 867.4,901.8 868.4,901.6 869.4,901.5 870.4,901.3 871.4,901.4 872.4,901.2 873.4,901.6 874.4,902.1 875.4,902.5 876.4,903.2 877.4,903.3 878.4,903.2 879.4,903.2 880.4,903.2 881.4,903.4 882.4,903.1 883.4,903.2 884.4,903.3 885.4,903.2 886.4,903.3 887.4,903.2 888.4,903.3 889.4,903.4 890.4,903.4 891.4,903.4 892.4,903.5 893.4,903.3 894.4,903.4 895.4,903.5 896.4,903.3 897.4,903.3 898.4,903.4 899.4,903.5 900.4,903.3 901.4,903.4 902.4,903.5 903.4,903.5 904.4,903.6 905.4,903.5 906.4,903.4 907.4,903.4 908.4,903.5 908.0,911.8 908.5,903.5 909.4,903.8 910.4,903.9 911.4,904.0 912.4,904.1 913.4,904.4 914.4,904.4 915.4,904.6 916.4,904.7 917.4,904.6 918.4,904.8 919.4,904.6 920.4,904.6 921.4,904.7 922.4,904.8 923.4,904.7 924.4,904.8 925.4,904.6 926.4,904.8 927.4,904.8 928.4,904.8 929.4,904.8 930.4,904.6 931.4,904.6 932.4,904.8 933.4,904.8 934.4,904.6 935.4,904.7 936.4,904.8 937.4,904.7 938.4,904.6 939.4,904.6 940.4,904.8 941.4,904.6 942.4,904.6 943.4,904.8 944.4,904.6 945.4,904.7 946.4,904.7 947.4,904.7 948.4,904.9 949.4,905.1 950.4,905.0 951.4,905.0 952.4,905.3 953.4,905.3 954.4,905.2 955.4,905.5 956.4,905.5 957.4,905.7 958.4,905.7 959.4,905.7 960.4,905.7 961.4,905.9 962.4,905.8 963.4,905.9 964.4,906.1 965.4,906.3 966.4,906.3 967.4,906.2 968.4,906.0 969.4,905.9 970.4,905.9 970.5,911.8 971.0,905.9 971.4,905.8 972.4,905.6 973.4,905.7 974.4,905.7 975.4,905.6 976.4,905.5 977.4,905.4 978.4,905.1 979.4,905.0 980.4,905.0 981.4,904.7 982.4,904.4 983.4,904.4 984.4,904.2 985.4,904.2 986.4,903.9 987.4,903.9 988.4,903.8 989.4,903.9 990.4,903.8 991.4,903.5 992.4,903.4 993.4,903.4 994.4,903.5 995.4,903.3 996.4,903.1 997.4,903.2 998.4,903.1 999.4,903.3 1000.4,903.2 1001.4,903.2 1002.4,903.3 1003.4,903.2 1004.4,903.1 1005.4,903.2 1006.4,903.1 1007.4,903.2 1008.4,903.3 1009.4,903.3 1010.4,903.3 1011.4,903.1 1012.4,903.3 1013.4,903.4 1014.4,903.4 1015.4,903.6 1016.4,903.4 1017.4,903.7 1018.4,903.8 1019.4,903.7 1020.4,903.7 1021.4,904.0 1022.4,904.0 1023.4,904.2 1024.4,904.1 1025.4,904.1 1026.4,904.2 1027.4,904.5 1028.4,904.6 1029.4,905.0 1030.4,905.1 1031.4,905.2 1032.4,905.4 1033.4,905.4 1033.0,911.8 1033.5,905.3 1034.4,905.3 1035.4,905.3 1036.4,905.3 1037.4,905.2 1038.4,905.2 1039.4,905.2 1040.4,905.2 1041.4,905.4 1042.4,905.3 1043.4,905.2 1044.4,905.2 1045.4,905.4 1046.4,905.3 1047.4,905.4 1048.4,905.3 1049.4,905.2 1050.4,905.4 1051.4,905.4 1052.4,905.3 1053.4,905.4 1054.4,905.3 1055.4,905.2 1056.4,905.2 1057.4,905.2 1058.4,905.3 1059.4,905.3 1060.4,905.3 1061.4,905.2 1062.4,905.3 1063.4,905.2 1064.4,905.4 1065.4,905.8 1066.4,905.7 1067.4,905.8 1068.4,906.1 1069.4,906.2 1070.4,906.3 1071.4,906.7 1072.4,906.8 1073.4,906.9 1074.4,907.0 1075.4,907.1 1076.4,907.2 1077.4,907.2 1078.4,907.3 1079.4,907.7 1080.4,907.8 1081.4,907.7 1082.4,907.9 1083.4,907.9 1084.4,908.2 1085.4,908.4 1086.4,908.4 1087.4,908.1 1088.4,908.4 1089.4,908.1 1090.4,908.3 1091.4,908.3 1092.4,908.0 1093.4,908.1 1094.4,908.2 1095.4,908.1 1095.5,911.8 1096.0,908.0 1096.4,908.1 1097.4,908.0 1098.4,908.0 1099.4,907.9 1100.4,908.0 1101.4,908.0 1102.4,907.9 1103.4,907.9 1104.4,907.7 1105.4,907.7 1106.4,907.7 1107.4,907.7 1108.4,907.8 1109.4,907.6 1110.4,907.9 1111.4,907.6 1112.4,907.8 1113.4,907.8 1114.4,907.7 1115.4,907.6 1116.4,907.9 1117.4,907.9 1118.4,907.8 1119.4,907.7 1120.4,907.8 1121.4,907.9 1122.4,907.7 1123.4,907.9 1124.4,907.9 1125.4,907.8 1126.4,907.8 1127.4,907.8 1128.4,907.8 1129.4,907.9 1130.4,907.8 1131.4,907.9 1132.4,908.0 1133.4,908.0 1134.4,907.9 1135.4,907.8 1136.4,907.9 1137.4,908.0 1138.4,908.0 1139.4,908.1 1140.4,908.1 1141.4,908.0 1142.4,908.0 1143.4,907.8 1144.4,907.7 1145.4,907.8 1146.4,907.7 1147.4,907.5 1148.4,907.3 1149.4,907.4 1150.4,907.3 1151.4,907.3 1152.4,907.3 1153.4,907.3 1154.4,907.1 1155.4,907.3 1156.4,907.2 1157.4,907.3 1158.4,907.4 1157.9,911.8 1158.4,907.3 1159.4,907.2 1160.4,907.5 1161.4,907.4 1162.4,907.3 1163.4,907.4 1164.4,907.3 1165.4,907.5 1166.4,907.5 1167.4,907.4 1168.4,907.5 1169.4,907.3 1170.4,907.3 1171.4,907.6 1172.4,907.4 1173.4,907.6 1174.4,907.6 1175.4,907.4 1176.4,907.6 1177.4,907.6 1178.4,907.6 1179.4,907.6 1180.4,907.6 1181.4,907.7 1182.4,907.6 1183.4,907.7 1184.4,907.6 1185.4,907.6 1186.4,907.6 1187.4,907.6 1188.4,907.8 1189.4,907.7 1190.4,907.9 1191.4,907.8 1192.4,907.8 1193.4,907.8 1194.4,907.8 1195.4,907.9 1196.4,907.7 1197.4,907.9 1198.4,907.7 1199.4,907.7 1200.4,908.0 1201.4,907.7 1202.4,908.0 1203.4,908.0 1204.4,908.0 1205.4,908.1 1206.4,907.8 1207.4,908.0 1208.4,908.0 1209.4,908.0 1210.4,907.9 1211.4,907.9 1212.4,908.1 1213.4,907.9 1214.4,908.1 1215.4,908.0 1216.4,908.1 1217.4,908.0 1218.4,908.2 1219.4,908.2 1220.4,908.0 1220.4,911.8 1220.9,908.1 1221.4,908.3 1222.4,908.1 1223.4,908.2 1224.4,908.2 1225.4,908.1 1226.4,908.3 1227.4,908.2 1228.4,908.3 1229.4,908.4 1230.4,908.4 1231.4,908.2 1232.4,908.3 1233.4,908.4 1234.4,908.2 1235.4,908.2 1236.4,908.4 1237.4,908.4 1238.4,908.2 1239.4,908.4 1240.4,908.4 1241.4,908.2 1242.4,908.3 1243.4,908.4 1244.4,908.2 1245.4,908.4 1246.4,908.4 1247.4,908.4 1248.4,908.4 1249.4,908.4 1250.4,908.4 1251.4,908.3 1252.4,908.2 1253.4,908.4 1254.4,908.2 1255.4,908.2 1256.0,908.3 1256.0,911.2 1266.8,911.2 1266.8,846.1 1287.7,846.1" fill="none" stroke="#f00" stroke-width="2" stroke-linejoin="miter" shape-rendering="crispEdges"/><line x1="116.25" y1="846.3" x2="1303" y2="846.3" stroke="#000" stroke-width="1.8" stroke-dasharray="4,7.02"/><rect x="116" y="728" width="1189" height="2" fill="#000"/><rect x="116" y="963" width="1189" height="2" fill="#000"/><rect x="116" y="728" width="1" height="237" fill="#000"/><rect x="1303" y="728" width="2" height="237" fill="#000"/><line x1="116" y1="964.00" x2="141" y2="964.00" stroke="#000" stroke-width="1.5" shape-rendering="crispEdges"/><line x1="1279" y1="964.00" x2="1304" y2="964.00" stroke="#000" stroke-width="1.5" shape-rendering="crispEdges"/><line x1="116" y1="946.03" x2="141" y2="946.03" stroke="#000" stroke-width="1.5" shape-rendering="crispEdges"/><line x1="1279" y1="946.03" x2="1304" y2="946.03" stroke="#000" stroke-width="1.5" shape-rendering="crispEdges"/><line x1="116" y1="928.07" x2="141" y2="928.07" stroke="#000" stroke-width="1.5" shape-rendering="crispEdges"/><line x1="1279" y1="928.07" x2="1304" y2="928.07" stroke="#000" stroke-width="1.5" shape-rendering="crispEdges"/><line x1="116" y1="910.10" x2="141" y2="910.10" stroke="#000" stroke-width="1.5" shape-rendering="crispEdges"/><line x1="1279" y1="910.10" x2="1304" y2="910.10" stroke="#000" stroke-width="1.5" shape-rendering="crispEdges"/><line x1="116" y1="892.13" x2="141" y2="892.13" stroke="#000" stroke-width="1.5" shape-rendering="crispEdges"/><line x1="1279" y1="892.13" x2="1304" y2="892.13" stroke="#000" stroke-width="1.5" shape-rendering="crispEdges"/><line x1="116" y1="874.16" x2="141" y2="874.16" stroke="#000" stroke-width="1.5" shape-rendering="crispEdges"/><line x1="1279" y1="874.16" x2="1304" y2="874.16" stroke="#000" stroke-width="1.5" shape-rendering="crispEdges"/><line x1="116" y1="856.20" x2="141" y2="856.20" stroke="#000" stroke-width="1.5" shape-rendering="crispEdges"/><line x1="1279" y1="856.20" x2="1304" y2="856.20" stroke="#000" stroke-width="1.5" shape-rendering="crispEdges"/><line x1="116" y1="838.23" x2="141" y2="838.23" stroke="#000" stroke-width="1.5" shape-rendering="crispEdges"/><line x1="1279" y1="838.23" x2="1304" y2="838.23" stroke="#000" stroke-width="1.5" shape-rendering="crispEdges"/><line x1="116" y1="820.26" x2="141" y2="820.26" stroke="#000" stroke-width="1.5" shape-rendering="crispEdges"/><line x1="1279" y1="820.26" x2="1304" y2="820.26" stroke="#000" stroke-width="1.5" shape-rendering="crispEdges"/><line x1="116" y1="802.29" x2="141" y2="802.29" stroke="#000" stroke-width="1.5" shape-rendering="crispEdges"/><line x1="1279" y1="802.29" x2="1304" y2="802.29" stroke="#000" stroke-width="1.5" shape-rendering="crispEdges"/><line x1="116" y1="784.33" x2="141" y2="784.33" stroke="#000" stroke-width="1.5" shape-rendering="crispEdges"/><line x1="1279" y1="784.33" x2="1304" y2="784.33" stroke="#000" stroke-width="1.5" shape-rendering="crispEdges"/><line x1="116" y1="766.36" x2="141" y2="766.36" stroke="#000" stroke-width="1.5" shape-rendering="crispEdges"/><line x1="1279" y1="766.36" x2="1304" y2="766.36" stroke="#000" stroke-width="1.5" shape-rendering="crispEdges"/><line x1="116" y1="748.39" x2="141" y2="748.39" stroke="#000" stroke-width="1.5" shape-rendering="crispEdges"/><line x1="1279" y1="748.39" x2="1304" y2="748.39" stroke="#000" stroke-width="1.5" shape-rendering="crispEdges"/><line x1="116" y1="730.42" x2="141" y2="730.42" stroke="#000" stroke-width="1.5" shape-rendering="crispEdges"/><line x1="1279" y1="730.42" x2="1304" y2="730.42" stroke="#000" stroke-width="1.5" shape-rendering="crispEdges"/><line x1="116" y1="728.50" x2="141" y2="728.50" stroke="#000" stroke-width="1.5" shape-rendering="crispEdges"/><line x1="1279" y1="728.50" x2="1304" y2="728.50" stroke="#000" stroke-width="1.5" shape-rendering="crispEdges"/><rect x="177.97" y="730" width="2" height="4" fill="#000"/><rect x="177.97" y="959" width="2" height="4" fill="#000"/><rect x="240.45" y="730" width="2" height="4" fill="#000"/><rect x="240.45" y="959" width="2" height="4" fill="#000"/><rect x="302.92" y="730" width="2" height="4" fill="#000"/><rect x="302.92" y="959" width="2" height="4" fill="#000"/><rect x="365.39" y="730" width="2" height="4" fill="#000"/><rect x="365.39" y="959" width="2" height="4" fill="#000"/><rect x="427.87" y="730" width="2" height="4" fill="#000"/><rect x="427.87" y="959" width="2" height="4" fill="#000"/><rect x="490.34" y="730" width="2" height="4" fill="#000"/><rect x="490.34" y="959" width="2" height="4" fill="#000"/><rect x="552.82" y="730" width="2" height="4" fill="#000"/><rect x="552.82" y="959" width="2" height="4" fill="#000"/><rect x="615.29" y="730" width="2" height="4" fill="#000"/><rect x="615.29" y="959" width="2" height="4" fill="#000"/><rect x="677.76" y="730" width="2" height="4" fill="#000"/><rect x="677.76" y="959" width="2" height="4" fill="#000"/><rect x="740.24" y="730" width="2" height="4" fill="#000"/><rect x="740.24" y="959" width="2" height="4" fill="#000"/><rect x="802.71" y="730" width="2" height="4" fill="#000"/><rect x="802.71" y="959" width="2" height="4" fill="#000"/><rect x="865.18" y="730" width="2" height="4" fill="#000"/><rect x="865.18" y="959" width="2" height="4" fill="#000"/><rect x="927.66" y="730" width="2" height="4" fill="#000"/><rect x="927.66" y="959" width="2" height="4" fill="#000"/><rect x="990.13" y="730" width="2" height="4" fill="#000"/><rect x="990.13" y="959" width="2" height="4" fill="#000"/><rect x="1052.61" y="730" width="2" height="4" fill="#000"/><rect x="1052.61" y="959" width="2" height="4" fill="#000"/><rect x="1115.08" y="730" width="2" height="4" fill="#000"/><rect x="1115.08" y="959" width="2" height="4" fill="#000"/><rect x="1177.55" y="730" width="2" height="4" fill="#000"/><rect x="1177.55" y="959" width="2" height="4" fill="#000"/><rect x="1240.03" y="730" width="2" height="4" fill="#000"/><rect x="1240.03" y="959" width="2" height="4" fill="#000"/><text x="110.5" y="964.0" font-size="22" text-anchor="end">0</text><text x="110.5" y="936.1" font-size="22" text-anchor="end">10000</text><text x="110.5" y="900.1" font-size="22" text-anchor="end">20000</text><text x="110.5" y="864.2" font-size="22" text-anchor="end">30000</text><text x="110.5" y="828.3" font-size="22" text-anchor="end">40000</text><text x="110.5" y="792.3" font-size="22" text-anchor="end">50000</text><text x="110.5" y="756.4" font-size="22" text-anchor="end">60000</text><text x="110.5" y="741.8" font-size="22" text-anchor="end">65535</text><text x="116.5" y="992.0" font-size="22" text-anchor="middle">13</text><text x="179.0" y="992.0" font-size="22" text-anchor="middle">14</text><text x="241.4" y="992.0" font-size="22" text-anchor="middle">15</text><text x="303.9" y="992.0" font-size="22" text-anchor="middle">16</text><text x="366.4" y="992.0" font-size="22" text-anchor="middle">17</text><text x="428.9" y="992.0" font-size="22" text-anchor="middle">18</text><text x="491.3" y="992.0" font-size="22" text-anchor="middle">19</text><text x="553.8" y="992.0" font-size="22" text-anchor="middle">20</text><text x="616.3" y="992.0" font-size="22" text-anchor="middle">21</text><text x="678.8" y="992.0" font-size="22" text-anchor="middle">22</text><text x="741.2" y="992.0" font-size="22" text-anchor="middle">23</text><text x="803.7" y="992.0" font-size="22" text-anchor="middle">0</text><text x="866.2" y="992.0" font-size="22" text-anchor="middle">1</text><text x="928.7" y="992.0" font-size="22" text-anchor="middle">2</text><text x="991.1" y="992.0" font-size="22" text-anchor="middle">3</text><text x="1053.6" y="992.0" font-size="22" text-anchor="middle">4</text><text x="1116.1" y="992.0" font-size="22" text-anchor="middle">5</text><text x="1178.6" y="992.0" font-size="22" text-anchor="middle">6</text><text x="1241.0" y="992.0" font-size="22" text-anchor="middle">7</text><text x="1303.5" y="992.0" font-size="22" text-anchor="middle">8</text><text x="710" y="1016.0" font-size="22" text-anchor="middle">Time (UT)</text><text x="709.5" y="717.7" font-size="27.6" text-anchor="middle">630.0 nm (HV = 70)</text><text transform="translate(31.0,846.30) rotate(-90)" font-size="22.6" text-anchor="middle">Counts</text><text x="1250.5" y="775.2" font-size="44" text-anchor="end" style="stroke-width:0.9px">630.0 nm</text></g>
<g><polyline points="158.0,1193.5 168.6,1193.5 168.6,1232.5" fill="none" stroke="#f00" stroke-width="1.3"/><polyline points="169.0,1232.0 169.0,1257.4 169.0,1257.5 170.0,1257.4 171.0,1257.5 172.0,1257.5 173.0,1257.3 174.0,1257.3 175.0,1257.4 176.0,1257.3 177.0,1257.4 178.0,1257.5 179.0,1257.5 180.0,1257.3 181.0,1257.3 182.0,1257.3 183.0,1257.5 184.0,1257.3 185.0,1257.3 186.0,1257.3 187.0,1257.3 188.0,1257.4 189.0,1256.6 190.0,1256.7 191.0,1256.7 192.0,1256.7 193.0,1256.6 194.0,1256.7 195.0,1256.7 196.0,1256.7 197.0,1256.6 198.0,1256.6 199.0,1256.6 200.0,1256.7 201.0,1256.6 202.0,1256.6 203.0,1256.5 204.0,1256.5 205.0,1256.5 206.0,1256.6 207.0,1256.6 208.0,1256.6 209.0,1256.5 210.0,1256.5 211.0,1256.4 212.0,1256.5 213.0,1256.4 214.0,1256.4 215.0,1256.4 216.0,1256.3 217.0,1256.5 218.0,1256.3 219.0,1256.5 220.0,1256.4 221.0,1256.3 222.0,1256.3 223.0,1256.5 224.0,1256.4 225.0,1256.3 226.0,1256.4 227.0,1256.3 228.0,1256.2 229.0,1256.3 230.0,1256.3 231.0,1256.2 232.0,1256.3 233.0,1256.2 234.0,1256.3 235.0,1256.1 236.0,1256.2 237.0,1255.9 238.0,1255.8 239.0,1255.7 240.0,1255.4 241.0,1255.2 242.0,1255.0 243.0,1254.6 244.0,1254.5 245.0,1254.4 246.0,1254.3 247.0,1254.1 248.0,1254.0 249.0,1253.8 250.0,1253.7 251.0,1253.8 252.0,1253.7 253.0,1253.9 254.0,1253.9 255.0,1253.9 256.0,1254.0 257.0,1253.9 258.0,1254.1 259.0,1254.0 260.0,1254.0 261.0,1254.2 262.0,1254.0 263.0,1254.2 264.0,1254.3 265.0,1254.4 266.0,1254.4 267.0,1254.3 268.0,1254.3 269.0,1254.5 270.0,1254.4 271.0,1254.4 272.0,1254.6 273.0,1254.5 274.0,1254.3 275.0,1254.4 276.0,1254.3 277.0,1254.4 278.0,1254.2 279.0,1254.3 280.0,1254.3 281.0,1254.2 282.0,1252.7 283.0,1250.0 283.3,1257.4 283.8,1250.0 284.0,1249.3 285.0,1249.1 286.0,1248.1 287.0,1248.4 288.0,1247.7 289.0,1247.4 290.0,1248.7 291.0,1249.2 292.0,1249.0 293.0,1248.9 294.0,1249.7 295.0,1250.4 296.0,1250.0 297.0,1252.1 298.0,1251.6 299.0,1250.4 300.0,1248.4 301.0,1247.0 302.0,1246.6 303.0,1247.0 304.0,1246.1 305.0,1245.8 306.0,1247.7 307.0,1247.4 308.0,1247.1 309.0,1246.5 310.0,1246.5 311.0,1248.2 312.0,1247.6 313.0,1248.3 314.0,1248.3 315.0,1248.4 316.0,1248.6 317.0,1247.7 318.0,1248.5 319.0,1249.2 320.0,1248.4 321.0,1247.1 322.0,1245.7 323.0,1245.4 324.0,1246.1 325.0,1246.5 326.0,1248.3 327.0,1247.7 328.0,1246.5 329.0,1246.0 330.0,1245.6 331.0,1245.8 332.0,1244.6 333.0,1245.3 334.0,1246.2 335.0,1246.6 336.0,1246.2 337.0,1247.6 338.0,1247.1 339.0,1248.0 340.0,1246.9 341.0,1247.1 342.0,1246.5 343.0,1247.7 344.0,1247.1 345.0,1247.8 346.0,1247.0 345.8,1257.4 346.3,1246.8 347.0,1246.3 348.0,1246.2 349.0,1246.1 350.0,1245.7 351.0,1245.6 352.0,1246.6 353.0,1246.1 354.0,1246.5 355.0,1247.0 356.0,1246.4 357.0,1246.7 358.0,1246.6 359.0,1246.7 360.0,1247.4 361.0,1246.5 362.0,1247.1 363.0,1246.7 364.0,1247.8 365.0,1247.2 366.0,1248.5 367.0,1247.7 368.0,1248.1 369.0,1247.8 370.0,1248.4 371.0,1248.2 372.0,1248.2 373.0,1247.1 374.0,1247.3 375.0,1248.5 376.0,1247.9 377.0,1248.9 378.0,1248.3 379.0,1248.0 380.0,1247.2 381.0,1246.9 382.0,1245.7 383.0,1245.9 384.0,1245.1 385.0,1245.0 386.0,1244.8 387.0,1245.2 388.0,1246.4 389.0,1246.1 390.0,1245.1 391.0,1245.2 392.0,1246.1 393.0,1246.3 394.0,1246.1 395.0,1245.6 396.0,1246.2 397.0,1247.3 398.0,1247.0 399.0,1247.2 400.0,1246.2 401.0,1246.9 402.0,1246.1 403.0,1246.2 404.0,1247.4 405.0,1246.1 406.0,1246.2 407.0,1245.9 408.0,1246.9 408.3,1257.4 408.8,1246.2 409.0,1246.3 410.0,1245.8 411.0,1246.0 412.0,1245.1 413.0,1245.7 414.0,1245.1 415.0,1244.0 416.0,1243.7 417.0,1244.0 418.0,1243.8 419.0,1244.4 420.0,1244.2 421.0,1244.3 422.0,1244.1 423.0,1243.4 424.0,1243.7 425.0,1243.6 426.0,1242.4 427.0,1242.0 428.0,1240.6 429.0,1239.9 430.0,1240.4 431.0,1240.6 432.0,1240.8 433.0,1240.3 434.0,1240.3 435.0,1239.5 436.0,1239.3 437.0,1239.4 438.0,1239.7 439.0,1239.5 440.0,1239.2 441.0,1239.5 442.0,1239.4 443.0,1240.2 444.0,1240.4 445.0,1240.4 446.0,1239.9 447.0,1238.5 448.0,1238.8 449.0,1240.1 450.0,1239.5 451.0,1239.7 452.0,1238.4 453.0,1238.4 454.0,1238.1 455.0,1238.8 456.0,1238.4 457.0,1238.6 458.0,1238.0 459.0,1237.7 460.0,1238.3 461.0,1239.2 462.0,1238.7 463.0,1238.5 464.0,1237.5 465.0,1238.2 466.0,1238.2 467.0,1238.8 468.0,1238.4 469.0,1239.3 470.0,1238.4 471.0,1239.3 470.7,1257.4 471.2,1238.9 472.0,1238.1 473.0,1238.5 474.0,1239.8 475.0,1240.0 476.0,1239.1 477.0,1239.0 478.0,1240.4 479.0,1239.9 480.0,1239.0 481.0,1240.3 482.0,1239.2 483.0,1238.4 484.0,1238.4 485.0,1238.3 486.0,1239.0 487.0,1239.1 488.0,1239.4 489.0,1240.4 490.0,1240.0 491.0,1241.2 492.0,1241.2 493.0,1241.3 494.0,1239.5 495.0,1240.5 496.0,1239.9 497.0,1238.6 498.0,1239.6 499.0,1238.6 500.0,1237.6 501.0,1237.5 502.0,1239.0 503.0,1238.7 504.0,1237.8 505.0,1239.1 506.0,1237.6 507.0,1238.9 508.0,1238.8 509.0,1239.3 510.0,1239.5 511.0,1239.2 512.0,1239.5 513.0,1238.9 514.0,1239.8 515.0,1239.0 516.0,1239.7 517.0,1240.1 518.0,1239.8 519.0,1240.9 520.0,1241.0 521.0,1240.4 522.0,1241.4 523.0,1241.2 524.0,1241.5 525.0,1240.5 526.0,1241.8 527.0,1241.3 528.0,1241.9 529.0,1241.1 530.0,1240.7 531.0,1241.6 532.0,1241.9 533.0,1242.1 533.2,1257.4 533.7,1241.6 534.0,1241.4 535.0,1241.9 536.0,1240.4 537.0,1240.1 538.0,1240.5 539.0,1240.7 540.0,1240.7 541.0,1239.3 542.0,1240.1 543.0,1239.4 544.0,1239.6 545.0,1238.7 546.0,1238.8 547.0,1239.6 548.0,1239.1 549.0,1240.2 550.0,1239.3 551.0,1239.0 552.0,1238.6 553.0,1239.2 554.0,1239.2 555.0,1238.7 556.0,1239.9 557.0,1239.0 558.0,1239.5 559.0,1239.3 560.0,1239.5 561.0,1238.2 562.0,1239.7 563.0,1239.0 564.0,1238.2 565.0,1238.9 566.0,1237.9 567.0,1238.7 568.0,1238.3 569.0,1238.4 570.0,1239.3 571.0,1240.1 572.0,1240.1 573.0,1240.6 574.0,1240.4 575.0,1240.0 576.0,1240.0 577.0,1240.6 578.0,1239.0 579.0,1239.7 580.0,1239.7 581.0,1238.7 582.0,1240.2 583.0,1239.8 584.0,1239.1 585.0,1239.9 586.0,1239.3 587.0,1239.7 588.0,1239.3 589.0,1239.7 590.0,1238.7 591.0,1237.6 592.0,1238.4 593.0,1237.1 594.0,1237.3 595.0,1237.6 596.0,1236.9 595.7,1257.4 596.2,1236.5 597.0,1235.4 598.0,1236.5 599.0,1236.4 600.0,1235.0 600.7,1233.2 601.4,1234.5 602.1,1234.8 602.8,1230.9 603.5,1236.8 604.2,1235.2 604.9,1233.3 605.6,1236.4 606.3,1231.4 606.6,1238.9 606.9,1233.9 607.0,1236.8 607.7,1236.5 608.4,1233.5 609.1,1230.7 609.8,1233.2 610.5,1230.5 611.2,1233.8 611.9,1230.6 612.6,1233.4 612.9,1240.2 613.2,1233.2 613.3,1232.4 614.0,1231.7 614.7,1233.5 615.4,1233.1 616.1,1235.6 616.8,1232.2 617.5,1233.1 618.2,1234.1 618.9,1229.7 619.6,1232.4 620.3,1229.6 621.0,1231.9 621.7,1231.9 622.4,1234.8 623.1,1235.1 623.8,1230.0 624.5,1234.1 625.2,1230.3 625.9,1229.3 626.6,1231.9 627.3,1229.7 628.0,1234.6 628.7,1234.3 629.4,1227.6 630.1,1234.9 630.8,1234.2 631.5,1228.4 632.2,1232.4 632.9,1231.6 633.6,1228.6 634.3,1232.9 635.0,1227.6 635.7,1230.3 636.0,1235.4 636.3,1231.4 636.4,1231.6 637.1,1233.9 637.8,1231.0 638.5,1230.1 639.2,1231.6 639.9,1232.2 640.6,1231.2 641.3,1228.9 642.0,1234.5 642.7,1229.6 643.4,1229.4 644.1,1229.6 644.8,1235.2 645.5,1228.4 646.2,1232.5 646.9,1232.0 647.6,1229.3 648.3,1233.5 649.0,1228.8 649.7,1228.3 650.4,1227.7 651.1,1232.6 651.8,1228.1 652.5,1232.5 653.2,1232.9 653.9,1228.8 654.6,1235.4 655.3,1229.2 656.0,1230.8 656.7,1234.5 657.4,1230.5 658.1,1234.5 658.1,1257.4 658.6,1232.4 658.8,1234.0 659.5,1235.3 660.2,1233.3 660.9,1233.4 661.6,1235.7 662.3,1237.7 663.0,1234.0 663.3,1246.6 663.6,1237.6 663.7,1234.6 664.4,1235.5 665.1,1233.3 665.8,1238.2 666.1,1243.2 666.4,1236.2 666.5,1239.3 667.2,1235.4 667.9,1233.5 668.6,1233.7 669.3,1236.6 670.0,1235.0 670.7,1233.2 671.4,1234.2 672.1,1236.8 672.8,1235.0 673.5,1232.4 674.2,1238.1 674.9,1232.1 675.6,1233.4 676.3,1234.3 677.0,1236.2 677.7,1238.2 678.0,1243.6 678.3,1237.6 678.4,1240.4 679.1,1235.7 679.8,1240.1 680.5,1240.6 681.2,1239.4 681.9,1238.6 682.6,1236.3 683.3,1235.1 684.0,1232.5 684.7,1233.9 685.4,1232.3 686.1,1233.1 686.8,1230.8 687.5,1237.6 688.2,1233.4 688.9,1230.8 689.6,1231.0 690.3,1233.4 691.0,1230.5 691.7,1234.9 692.4,1232.1 693.1,1234.6 693.8,1232.7 694.5,1233.6 695.2,1237.8 695.9,1235.0 696.6,1239.0 697.3,1237.7 698.0,1238.7 698.7,1239.1 699.4,1238.3 700.1,1236.9 700.4,1242.3 700.7,1238.3 700.8,1240.0 701.5,1234.9 702.2,1236.3 702.9,1240.4 703.6,1240.5 704.3,1234.0 705.0,1239.6 705.7,1236.9 706.4,1234.8 707.1,1240.0 707.8,1237.2 708.5,1234.5 709.2,1239.5 709.9,1232.9 710.6,1237.7 711.3,1237.7 712.0,1237.7 712.7,1235.5 713.4,1234.1 714.1,1233.4 714.8,1237.4 715.5,1235.3 716.2,1231.8 716.9,1237.6 717.6,1238.5 718.3,1239.7 719.0,1238.0 719.7,1240.3 720.4,1239.6 720.6,1257.4 721.1,1239.6 721.4,1240.0 722.4,1240.1 723.4,1240.3 724.4,1240.7 725.4,1240.7 726.4,1240.9 727.4,1241.3 728.4,1241.5 729.4,1241.8 730.4,1242.0 731.4,1242.0 732.4,1242.5 733.4,1242.5 734.4,1242.5 735.4,1242.2 736.4,1241.9 737.4,1241.6 738.4,1241.3 739.4,1241.2 740.4,1240.8 741.4,1240.7 742.4,1240.2 743.4,1240.0 744.4,1239.7 745.4,1239.4 746.4,1239.4 747.4,1240.2 748.4,1240.7 749.4,1241.4 750.4,1242.0 751.4,1242.9 752.4,1243.2 753.4,1243.6 754.4,1244.0 755.4,1244.1 756.4,1244.5 757.4,1244.9 758.4,1245.2 759.4,1245.3 760.4,1245.7 761.4,1246.1 762.4,1246.3 763.4,1246.5 764.4,1246.8 765.4,1247.3 766.4,1247.3 767.4,1247.3 768.4,1247.4 769.4,1247.6 770.4,1247.8 771.4,1247.8 772.4,1247.9 773.4,1247.9 774.4,1247.9 775.4,1247.7 776.4,1247.2 777.4,1246.8 778.4,1246.6 779.4,1246.3 780.4,1245.9 781.4,1245.3 782.4,1245.1 783.4,1244.7 783.1,1257.4 783.6,1244.7 784.4,1244.8 785.4,1245.2 786.4,1245.3 787.4,1245.5 788.4,1245.6 789.4,1245.9 790.4,1246.1 791.4,1246.1 792.4,1245.8 793.4,1245.3 794.4,1245.2 795.4,1244.7 796.4,1244.3 797.4,1244.2 798.4,1243.9 799.4,1243.6 800.4,1243.1 801.4,1242.9 802.4,1242.7 803.4,1242.5 804.4,1242.4 805.4,1242.6 806.4,1242.4 807.4,1242.6 808.4,1242.5 809.4,1242.6 810.4,1242.6 811.4,1242.5 812.4,1242.5 813.4,1242.5 814.4,1242.7 815.4,1242.5 816.4,1242.5 817.4,1242.7 818.4,1242.8 819.4,1243.2 820.4,1243.1 821.4,1243.5 822.4,1243.6 823.4,1244.0 824.4,1244.2 825.4,1244.4 826.4,1244.4 827.4,1244.8 828.4,1245.0 829.4,1245.0 830.4,1245.3 831.4,1245.6 832.4,1245.8 833.4,1246.0 834.4,1246.1 835.4,1246.4 836.4,1246.7 837.4,1247.1 838.4,1247.7 839.4,1247.6 840.4,1247.4 841.4,1247.0 842.4,1247.0 843.4,1246.9 844.4,1246.5 845.4,1246.3 845.6,1257.4 846.1,1246.4 846.4,1246.2 847.4,1245.9 848.4,1245.8 849.4,1245.6 850.4,1245.5 851.4,1245.3 852.4,1245.0 853.4,1245.0 854.4,1244.8 855.4,1244.6 856.4,1244.5 857.4,1244.3 858.4,1244.2 859.4,1243.9 860.4,1244.0 861.4,1243.6 862.4,1243.6 863.4,1243.3 864.4,1243.4 865.4,1243.2 866.4,1242.9 867.4,1243.0 868.4,1242.8 869.4,1242.6 870.4,1242.5 871.4,1242.5 872.4,1242.6 873.4,1242.7 874.4,1243.1 875.4,1243.4 876.4,1243.6 877.4,1244.0 878.4,1244.2 879.4,1244.2 880.4,1244.3 881.4,1244.3 882.4,1244.3 883.4,1244.3 884.4,1244.1 885.4,1244.3 886.4,1244.2 887.4,1244.3 888.4,1244.2 889.4,1244.3 890.4,1244.3 891.4,1244.1 892.4,1244.2 893.4,1244.2 894.4,1244.5 895.4,1244.6 896.4,1244.6 897.4,1244.7 898.4,1244.9 899.4,1244.9 900.4,1245.2 901.4,1245.3 902.4,1245.3 903.4,1245.4 904.4,1245.6 905.4,1245.6 906.4,1245.5 907.4,1245.6 908.4,1245.8 908.0,1257.4 908.5,1245.7 909.4,1245.8 910.4,1245.7 911.4,1245.9 912.4,1245.9 913.4,1246.1 914.4,1246.2 915.4,1246.3 916.4,1246.2 917.4,1246.3 918.4,1246.3 919.4,1246.4 920.4,1246.6 921.4,1246.7 922.4,1246.8 923.4,1247.0 924.4,1246.9 925.4,1247.0 926.4,1247.1 927.4,1247.3 928.4,1247.3 929.4,1247.1 930.4,1247.1 931.4,1246.7 932.4,1246.8 933.4,1246.6 934.4,1246.3 935.4,1246.3 936.4,1246.4 937.4,1246.4 938.4,1246.6 939.4,1246.7 940.4,1246.9 941.4,1247.2 942.4,1247.2 943.4,1247.5 944.4,1247.5 945.4,1247.7 946.4,1247.8 947.4,1248.0 948.4,1248.2 949.4,1248.2 950.4,1248.0 951.4,1247.9 952.4,1247.8 953.4,1247.8 954.4,1247.7 955.4,1247.5 956.4,1247.6 957.4,1247.3 958.4,1247.3 959.4,1247.4 960.4,1247.6 961.4,1247.8 962.4,1248.2 963.4,1248.4 964.4,1248.7 965.4,1249.2 966.4,1249.3 967.4,1249.6 968.4,1249.9 969.4,1250.2 970.4,1250.3 970.5,1257.4 971.0,1250.2 971.4,1250.1 972.4,1249.9 973.4,1249.8 974.4,1249.9 975.4,1249.8 976.4,1249.6 977.4,1249.4 978.4,1249.3 979.4,1249.0 980.4,1248.3 981.4,1247.9 982.4,1247.4 983.4,1246.9 984.4,1246.5 985.4,1246.3 986.4,1246.2 987.4,1246.0 988.4,1245.9 989.4,1246.0 990.4,1245.8 991.4,1245.7 992.4,1245.7 993.4,1245.5 994.4,1245.7 995.4,1245.5 996.4,1245.5 997.4,1245.6 998.4,1245.4 999.4,1245.5 1000.4,1245.4 1001.4,1245.5 1002.4,1245.5 1003.4,1245.6 1004.4,1245.6 1005.4,1245.4 1006.4,1245.4 1007.4,1245.4 1008.4,1245.5 1009.4,1245.5 1010.4,1245.7 1011.4,1245.8 1012.4,1246.0 1013.4,1246.3 1014.4,1246.8 1015.4,1247.1 1016.4,1247.4 1017.4,1246.9 1018.4,1246.7 1019.4,1246.4 1020.4,1246.3 1021.4,1246.4 1022.4,1246.4 1023.4,1246.6 1024.4,1246.7 1025.4,1247.0 1026.4,1247.1 1027.4,1247.3 1028.4,1247.5 1029.4,1247.7 1030.4,1247.7 1031.4,1248.0 1032.4,1248.1 1033.4,1248.2 1033.0,1257.4 1033.5,1248.2 1034.4,1248.1 1035.4,1248.0 1036.4,1247.9 1037.4,1248.0 1038.4,1248.0 1039.4,1247.9 1040.4,1247.8 1041.4,1247.8 1042.4,1247.8 1043.4,1247.6 1044.4,1247.5 1045.4,1247.5 1046.4,1247.5 1047.4,1247.4 1048.4,1247.4 1049.4,1247.4 1050.4,1247.5 1051.4,1247.2 1052.4,1247.4 1053.4,1247.6 1054.4,1247.8 1055.4,1247.8 1056.4,1248.0 1057.4,1248.2 1058.4,1248.2 1059.4,1248.4 1060.4,1248.4 1061.4,1248.6 1062.4,1248.9 1063.4,1248.9 1064.4,1249.1 1065.4,1249.1 1066.4,1249.2 1067.4,1249.6 1068.4,1249.7 1069.4,1249.8 1070.4,1250.1 1071.4,1250.3 1072.4,1250.5 1073.4,1250.5 1074.4,1250.9 1075.4,1250.9 1076.4,1251.1 1077.4,1251.2 1078.4,1251.6 1079.4,1251.7 1080.4,1251.9 1081.4,1252.2 1082.4,1252.1 1083.4,1252.4 1084.4,1252.5 1085.4,1252.8 1086.4,1252.8 1087.4,1253.3 1088.4,1253.3 1089.4,1253.3 1090.4,1253.3 1091.4,1253.3 1092.4,1253.1 1093.4,1253.1 1094.4,1253.1 1095.4,1253.1 1095.5,1257.4 1096.0,1253.0 1096.4,1252.9 1097.4,1252.9 1098.4,1252.9 1099.4,1252.7 1100.4,1252.5 1101.4,1252.7 1102.4,1252.4 1103.4,1252.4 1104.4,1252.3 1105.4,1252.3 1106.4,1252.3 1107.4,1252.3 1108.4,1252.2 1109.4,1252.1 1110.4,1251.8 1111.4,1251.9 1112.4,1251.8 1113.4,1251.7 1114.4,1251.6 1115.4,1251.6 1116.4,1251.4 1117.4,1251.6 1118.4,1251.6 1119.4,1251.5 1120.4,1251.5 1121.4,1251.4 1122.4,1251.6 1123.4,1251.6 1124.4,1251.4 1125.4,1251.5 1126.4,1251.4 1127.4,1251.6 1128.4,1251.6 1129.4,1251.6 1130.4,1251.5 1131.4,1251.6 1132.4,1251.4 1133.4,1251.5 1134.4,1251.5 1135.4,1251.6 1136.4,1251.5 1137.4,1251.4 1138.4,1251.5 1139.4,1252.1 1140.4,1252.6 1141.4,1252.5 1142.4,1252.5 1143.4,1252.3 1144.4,1252.1 1145.4,1252.0 1146.4,1252.0 1147.4,1251.8 1148.4,1251.8 1149.4,1251.7 1150.4,1251.6 1151.4,1251.4 1152.4,1251.4 1153.4,1251.4 1154.4,1251.3 1155.4,1251.0 1156.4,1251.1 1157.4,1251.0 1158.4,1251.0 1157.9,1257.4 1158.4,1250.9 1159.4,1250.8 1160.4,1250.8 1161.4,1250.7 1162.4,1250.7 1163.4,1250.6 1164.4,1250.4 1165.4,1250.3 1166.4,1250.2 1167.4,1250.5 1168.4,1251.0 1169.4,1251.2 1170.4,1251.4 1171.4,1251.2 1172.4,1251.4 1173.4,1251.2 1174.4,1251.2 1175.4,1250.9 1176.4,1250.8 1177.4,1250.8 1178.4,1250.6 1179.4,1250.5 1180.4,1250.5 1181.4,1250.4 1182.4,1250.2 1183.4,1250.2 1184.4,1250.4 1185.4,1250.3 1186.4,1250.4 1187.4,1250.4 1188.4,1250.2 1189.4,1250.2 1190.4,1250.4 1191.4,1250.3 1192.4,1250.3 1193.4,1250.4 1194.4,1250.2 1195.4,1250.2 1196.4,1250.2 1197.4,1250.3 1198.4,1250.3 1199.4,1250.2 1200.4,1250.2 1201.4,1250.4 1202.4,1250.4 1203.4,1250.3 1204.4,1250.4 1205.4,1250.3 1206.4,1250.4 1207.4,1250.2 1208.4,1250.4 1209.4,1250.4 1210.4,1250.4 1211.4,1250.4 1212.4,1250.2 1213.4,1250.3 1214.4,1250.3 1215.4,1250.2 1216.4,1250.3 1217.4,1250.3 1218.4,1250.3 1219.4,1250.4 1220.4,1250.2 1220.4,1257.4 1220.9,1250.3 1221.4,1250.4 1222.4,1250.4 1223.4,1250.3 1224.4,1250.4 1225.4,1250.4 1226.4,1250.2 1227.4,1250.2 1228.4,1250.3 1229.4,1250.4 1230.4,1250.4 1231.4,1250.4 1232.4,1250.4 1233.4,1250.3 1234.4,1250.4 1235.4,1250.2 1236.4,1250.3 1237.4,1250.3 1238.4,1250.3 1239.4,1250.2 1240.4,1250.2 1241.4,1250.4 1242.4,1250.3 1243.4,1250.3 1244.4,1250.3 1245.4,1249.6 1246.4,1249.2 1247.4,1249.2 1248.4,1249.0 1249.4,1249.0 1250.4,1248.6 1251.4,1248.8 1252.4,1248.6 1253.4,1248.5 1254.4,1248.5 1255.4,1248.2 1256.0,1248.2 1256.0,1257.4 1266.8,1257.4 1266.8,1193.5 1287.7,1193.5" fill="none" stroke="#f00" stroke-width="2" stroke-linejoin="miter" shape-rendering="crispEdges"/><line x1="116.25" y1="1192.8" x2="1303" y2="1192.8" stroke="#000" stroke-width="1.8" stroke-dasharray="4,7.02"/><rect x="116" y="1074" width="1189" height="2" fill="#000"/><rect x="116" y="1309" width="1189" height="2" fill="#000"/><rect x="116" y="1074" width="1" height="237" fill="#000"/><rect x="1303" y="1074" width="2" height="237" fill="#000"/><line x1="116" y1="1310.50" x2="141" y2="1310.50" stroke="#000" stroke-width="1.5" shape-rendering="crispEdges"/><line x1="1279" y1="1310.50" x2="1304" y2="1310.50" stroke="#000" stroke-width="1.5" shape-rendering="crispEdges"/><line x1="116" y1="1292.53" x2="141" y2="1292.53" stroke="#000" stroke-width="1.5" shape-rendering="crispEdges"/><line x1="1279" y1="1292.53" x2="1304" y2="1292.53" stroke="#000" stroke-width="1.5" shape-rendering="crispEdges"/><line x1="116" y1="1274.57" x2="141" y2="1274.57" stroke="#000" stroke-width="1.5" shape-rendering="crispEdges"/><line x1="1279" y1="1274.57" x2="1304" y2="1274.57" stroke="#000" stroke-width="1.5" shape-rendering="crispEdges"/><line x1="116" y1="1256.60" x2="141" y2="1256.60" stroke="#000" stroke-width="1.5" shape-rendering="crispEdges"/><line x1="1279" y1="1256.60" x2="1304" y2="1256.60" stroke="#000" stroke-width="1.5" shape-rendering="crispEdges"/><line x1="116" y1="1238.63" x2="141" y2="1238.63" stroke="#000" stroke-width="1.5" shape-rendering="crispEdges"/><line x1="1279" y1="1238.63" x2="1304" y2="1238.63" stroke="#000" stroke-width="1.5" shape-rendering="crispEdges"/><line x1="116" y1="1220.66" x2="141" y2="1220.66" stroke="#000" stroke-width="1.5" shape-rendering="crispEdges"/><line x1="1279" y1="1220.66" x2="1304" y2="1220.66" stroke="#000" stroke-width="1.5" shape-rendering="crispEdges"/><line x1="116" y1="1202.70" x2="141" y2="1202.70" stroke="#000" stroke-width="1.5" shape-rendering="crispEdges"/><line x1="1279" y1="1202.70" x2="1304" y2="1202.70" stroke="#000" stroke-width="1.5" shape-rendering="crispEdges"/><line x1="116" y1="1184.73" x2="141" y2="1184.73" stroke="#000" stroke-width="1.5" shape-rendering="crispEdges"/><line x1="1279" y1="1184.73" x2="1304" y2="1184.73" stroke="#000" stroke-width="1.5" shape-rendering="crispEdges"/><line x1="116" y1="1166.76" x2="141" y2="1166.76" stroke="#000" stroke-width="1.5" shape-rendering="crispEdges"/><line x1="1279" y1="1166.76" x2="1304" y2="1166.76" stroke="#000" stroke-width="1.5" shape-rendering="crispEdges"/><line x1="116" y1="1148.79" x2="141" y2="1148.79" stroke="#000" stroke-width="1.5" shape-rendering="crispEdges"/><line x1="1279" y1="1148.79" x2="1304" y2="1148.79" stroke="#000" stroke-width="1.5" shape-rendering="crispEdges"/><line x1="116" y1="1130.83" x2="141" y2="1130.83" stroke="#000" stroke-width="1.5" shape-rendering="crispEdges"/><line x1="1279" y1="1130.83" x2="1304" y2="1130.83" stroke="#000" stroke-width="1.5" shape-rendering="crispEdges"/><line x1="116" y1="1112.86" x2="141" y2="1112.86" stroke="#000" stroke-width="1.5" shape-rendering="crispEdges"/><line x1="1279" y1="1112.86" x2="1304" y2="1112.86" stroke="#000" stroke-width="1.5" shape-rendering="crispEdges"/><line x1="116" y1="1094.89" x2="141" y2="1094.89" stroke="#000" stroke-width="1.5" shape-rendering="crispEdges"/><line x1="1279" y1="1094.89" x2="1304" y2="1094.89" stroke="#000" stroke-width="1.5" shape-rendering="crispEdges"/><line x1="116" y1="1076.92" x2="141" y2="1076.92" stroke="#000" stroke-width="1.5" shape-rendering="crispEdges"/><line x1="1279" y1="1076.92" x2="1304" y2="1076.92" stroke="#000" stroke-width="1.5" shape-rendering="crispEdges"/><line x1="116" y1="1075.00" x2="141" y2="1075.00" stroke="#000" stroke-width="1.5" shape-rendering="crispEdges"/><line x1="1279" y1="1075.00" x2="1304" y2="1075.00" stroke="#000" stroke-width="1.5" shape-rendering="crispEdges"/><rect x="177.97" y="1076" width="2" height="4" fill="#000"/><rect x="177.97" y="1305" width="2" height="4" fill="#000"/><rect x="240.45" y="1076" width="2" height="4" fill="#000"/><rect x="240.45" y="1305" width="2" height="4" fill="#000"/><rect x="302.92" y="1076" width="2" height="4" fill="#000"/><rect x="302.92" y="1305" width="2" height="4" fill="#000"/><rect x="365.39" y="1076" width="2" height="4" fill="#000"/><rect x="365.39" y="1305" width="2" height="4" fill="#000"/><rect x="427.87" y="1076" width="2" height="4" fill="#000"/><rect x="427.87" y="1305" width="2" height="4" fill="#000"/><rect x="490.34" y="1076" width="2" height="4" fill="#000"/><rect x="490.34" y="1305" width="2" height="4" fill="#000"/><rect x="552.82" y="1076" width="2" height="4" fill="#000"/><rect x="552.82" y="1305" width="2" height="4" fill="#000"/><rect x="615.29" y="1076" width="2" height="4" fill="#000"/><rect x="615.29" y="1305" width="2" height="4" fill="#000"/><rect x="677.76" y="1076" width="2" height="4" fill="#000"/><rect x="677.76" y="1305" width="2" height="4" fill="#000"/><rect x="740.24" y="1076" width="2" height="4" fill="#000"/><rect x="740.24" y="1305" width="2" height="4" fill="#000"/><rect x="802.71" y="1076" width="2" height="4" fill="#000"/><rect x="802.71" y="1305" width="2" height="4" fill="#000"/><rect x="865.18" y="1076" width="2" height="4" fill="#000"/><rect x="865.18" y="1305" width="2" height="4" fill="#000"/><rect x="927.66" y="1076" width="2" height="4" fill="#000"/><rect x="927.66" y="1305" width="2" height="4" fill="#000"/><rect x="990.13" y="1076" width="2" height="4" fill="#000"/><rect x="990.13" y="1305" width="2" height="4" fill="#000"/><rect x="1052.61" y="1076" width="2" height="4" fill="#000"/><rect x="1052.61" y="1305" width="2" height="4" fill="#000"/><rect x="1115.08" y="1076" width="2" height="4" fill="#000"/><rect x="1115.08" y="1305" width="2" height="4" fill="#000"/><rect x="1177.55" y="1076" width="2" height="4" fill="#000"/><rect x="1177.55" y="1305" width="2" height="4" fill="#000"/><rect x="1240.03" y="1076" width="2" height="4" fill="#000"/><rect x="1240.03" y="1305" width="2" height="4" fill="#000"/><text x="110.5" y="1310.5" font-size="22" text-anchor="end">0</text><text x="110.5" y="1282.6" font-size="22" text-anchor="end">10000</text><text x="110.5" y="1246.6" font-size="22" text-anchor="end">20000</text><text x="110.5" y="1210.7" font-size="22" text-anchor="end">30000</text><text x="110.5" y="1174.8" font-size="22" text-anchor="end">40000</text><text x="110.5" y="1138.8" font-size="22" text-anchor="end">50000</text><text x="110.5" y="1102.9" font-size="22" text-anchor="end">60000</text><text x="110.5" y="1088.3" font-size="22" text-anchor="end">65535</text><text x="116.5" y="1338.5" font-size="22" text-anchor="middle">13</text><text x="179.0" y="1338.5" font-size="22" text-anchor="middle">14</text><text x="241.4" y="1338.5" font-size="22" text-anchor="middle">15</text><text x="303.9" y="1338.5" font-size="22" text-anchor="middle">16</text><text x="366.4" y="1338.5" font-size="22" text-anchor="middle">17</text><text x="428.9" y="1338.5" font-size="22" text-anchor="middle">18</text><text x="491.3" y="1338.5" font-size="22" text-anchor="middle">19</text><text x="553.8" y="1338.5" font-size="22" text-anchor="middle">20</text><text x="616.3" y="1338.5" font-size="22" text-anchor="middle">21</text><text x="678.8" y="1338.5" font-size="22" text-anchor="middle">22</text><text x="741.2" y="1338.5" font-size="22" text-anchor="middle">23</text><text x="803.7" y="1338.5" font-size="22" text-anchor="middle">0</text><text x="866.2" y="1338.5" font-size="22" text-anchor="middle">1</text><text x="928.7" y="1338.5" font-size="22" text-anchor="middle">2</text><text x="991.1" y="1338.5" font-size="22" text-anchor="middle">3</text><text x="1053.6" y="1338.5" font-size="22" text-anchor="middle">4</text><text x="1116.1" y="1338.5" font-size="22" text-anchor="middle">5</text><text x="1178.6" y="1338.5" font-size="22" text-anchor="middle">6</text><text x="1241.0" y="1338.5" font-size="22" text-anchor="middle">7</text><text x="1303.5" y="1338.5" font-size="22" text-anchor="middle">8</text><text x="710" y="1362.5" font-size="22" text-anchor="middle">Time (UT)</text><text x="709.5" y="1064.2" font-size="27.6" text-anchor="middle">777.4 nm (HV = 80)</text><text transform="translate(31.0,1192.80) rotate(-90)" font-size="22.6" text-anchor="middle">Counts</text><text x="1250.5" y="1121.7" font-size="44" text-anchor="end" style="stroke-width:0.9px">777.4 nm</text></g>
<g><polyline points="158.0,1539.5 168.6,1539.5 168.6,1578.5" fill="none" stroke="#f00" stroke-width="1.3"/><polyline points="169.0,1578.0 169.0,1592.1 169.0,1592.2 170.0,1592.2 171.0,1592.1 172.0,1591.9 173.0,1591.9 174.0,1592.0 175.0,1592.0 176.0,1591.8 177.0,1591.8 178.0,1591.9 179.0,1591.7 180.0,1591.8 181.0,1591.7 182.0,1591.7 183.0,1591.8 184.0,1591.7 185.0,1591.6 186.0,1591.5 187.0,1591.6 188.0,1591.5 189.0,1591.5 190.0,1591.4 191.0,1591.4 192.0,1591.3 193.0,1591.3 194.0,1591.3 195.0,1591.2 196.0,1591.3 197.0,1591.3 198.0,1591.2 199.0,1591.1 200.0,1591.1 201.0,1591.2 202.0,1591.0 203.0,1591.1 204.0,1590.9 205.0,1591.0 206.0,1590.8 207.0,1590.9 208.0,1590.9 209.0,1590.8 210.0,1590.8 211.0,1590.8 212.0,1590.8 213.0,1590.6 214.0,1590.6 215.0,1590.5 216.0,1590.5 217.0,1590.4 218.0,1590.4 219.0,1590.5 220.0,1590.3 221.0,1590.3 222.0,1590.2 223.0,1590.4 224.0,1590.2 225.0,1590.2 226.0,1590.3 227.0,1590.3 228.0,1590.2 229.0,1590.2 230.0,1590.1 231.0,1590.1 232.0,1590.0 233.0,1590.1 234.0,1590.1 235.0,1590.1 236.0,1590.0 237.0,1590.0 238.0,1589.9 239.0,1589.9 240.0,1589.9 241.0,1589.8 242.0,1589.5 243.0,1589.6 244.0,1589.3 245.0,1589.2 246.0,1589.0 247.0,1588.8 248.0,1588.8 249.0,1588.7 250.0,1588.8 251.0,1588.7 252.0,1588.7 253.0,1588.7 254.0,1588.8 255.0,1588.7 256.0,1588.8 257.0,1588.6 258.0,1588.7 259.0,1588.6 260.0,1588.6 261.0,1588.7 262.0,1588.6 263.0,1588.6 264.0,1588.6 265.0,1588.6 266.0,1588.6 267.0,1588.8 268.0,1588.6 269.0,1588.6 270.0,1588.6 271.0,1588.7 272.0,1588.6 273.0,1588.7 274.0,1588.6 275.0,1588.6 276.0,1588.7 277.0,1588.6 278.0,1588.8 279.0,1588.7 280.0,1588.7 281.0,1588.7 282.0,1588.1 283.0,1587.0 283.3,1590.9 283.8,1587.0 284.0,1586.1 285.0,1585.4 286.0,1585.3 287.0,1585.6 288.0,1585.4 289.0,1585.2 290.0,1586.6 291.0,1585.6 292.0,1586.3 293.0,1587.4 294.0,1588.0 295.0,1587.5 296.0,1587.1 297.0,1587.3 298.0,1586.1 299.0,1584.4 300.0,1583.9 301.0,1584.2 302.0,1582.8 303.0,1583.1 304.0,1583.1 305.0,1584.3 306.0,1583.5 307.0,1584.3 308.0,1584.3 309.0,1583.2 310.0,1584.1 311.0,1583.6 312.0,1584.9 313.0,1584.4 314.0,1584.2 315.0,1585.1 316.0,1585.2 317.0,1583.9 318.0,1584.8 319.0,1585.5 320.0,1584.3 321.0,1583.3 322.0,1582.1 323.0,1583.1 324.0,1583.4 325.0,1584.8 326.0,1585.0 327.0,1584.1 328.0,1584.2 329.0,1583.0 330.0,1583.2 331.0,1582.1 332.0,1583.8 333.0,1582.9 334.0,1584.1 335.0,1583.2 336.0,1583.4 337.0,1583.6 338.0,1584.9 339.0,1585.1 340.0,1585.1 341.0,1584.7 342.0,1583.9 343.0,1583.9 344.0,1583.5 345.0,1585.0 346.0,1583.5 345.8,1590.9 346.3,1584.2 347.0,1584.5 348.0,1583.1 349.0,1583.5 350.0,1584.0 351.0,1583.3 352.0,1583.1 353.0,1584.6 354.0,1583.5 355.0,1583.1 356.0,1584.4 357.0,1584.9 358.0,1584.1 359.0,1583.2 360.0,1584.0 361.0,1584.3 362.0,1583.7 363.0,1584.1 364.0,1584.7 365.0,1584.6 366.0,1584.9 367.0,1585.1 368.0,1584.2 369.0,1585.0 370.0,1583.4 371.0,1584.1 372.0,1584.3 373.0,1584.7 374.0,1583.8 375.0,1583.7 376.0,1584.5 377.0,1583.7 378.0,1582.9 379.0,1583.5 380.0,1583.1 381.0,1583.8 382.0,1584.0 383.0,1582.6 384.0,1583.1 385.0,1584.1 386.0,1583.9 387.0,1583.8 388.0,1583.1 389.0,1584.1 390.0,1583.8 391.0,1583.8 392.0,1583.2 393.0,1583.4 394.0,1582.4 395.0,1582.2 396.0,1582.2 397.0,1582.2 398.0,1583.0 399.0,1583.7 400.0,1583.0 401.0,1583.4 402.0,1583.3 403.0,1583.6 404.0,1582.4 405.0,1582.7 406.0,1583.5 407.0,1582.3 408.0,1582.8 408.3,1590.9 408.8,1582.4 409.0,1582.1 410.0,1581.5 411.0,1581.4 412.0,1581.5 413.0,1580.8 414.0,1582.1 415.0,1581.0 416.0,1580.7 417.0,1581.5 418.0,1579.9 419.0,1581.1 420.0,1580.4 421.0,1579.6 422.0,1580.0 423.0,1580.9 424.0,1579.0 425.0,1579.3 426.0,1578.9 427.0,1579.6 428.0,1578.8 429.0,1579.9 430.0,1578.9 431.0,1579.9 432.0,1578.3 433.0,1578.4 434.0,1578.0 435.0,1578.0 436.0,1578.1 437.0,1578.8 438.0,1578.6 439.0,1578.9 440.0,1577.9 441.0,1578.5 442.0,1579.1 443.0,1577.8 444.0,1577.6 445.0,1577.4 446.0,1578.8 447.0,1578.1 448.0,1577.8 449.0,1577.7 450.0,1576.9 451.0,1577.1 452.0,1577.8 453.0,1577.0 454.0,1577.4 455.0,1578.0 456.0,1576.6 457.0,1577.1 458.0,1577.6 459.0,1577.5 460.0,1577.6 461.0,1577.7 462.0,1577.1 463.0,1576.4 464.0,1576.8 465.0,1577.5 466.0,1576.2 467.0,1576.3 468.0,1576.1 469.0,1577.3 470.0,1575.8 471.0,1575.9 470.7,1590.9 471.2,1576.5 472.0,1576.8 473.0,1577.0 474.0,1576.5 475.0,1577.1 476.0,1577.1 477.0,1576.6 478.0,1576.1 479.0,1577.2 480.0,1577.1 481.0,1577.8 482.0,1577.4 483.0,1576.3 484.0,1576.6 485.0,1576.8 486.0,1577.6 487.0,1577.1 488.0,1577.2 489.0,1577.3 490.0,1577.6 491.0,1578.2 492.0,1578.8 493.0,1579.3 494.0,1577.8 495.0,1578.3 496.0,1578.8 497.0,1577.4 498.0,1576.7 499.0,1577.3 500.0,1577.3 501.0,1575.6 502.0,1575.4 503.0,1575.6 504.0,1575.5 505.0,1575.2 506.0,1575.2 507.0,1576.0 508.0,1577.1 509.0,1576.5 510.0,1576.1 511.0,1577.4 512.0,1576.3 513.0,1576.2 514.0,1576.3 515.0,1576.3 516.0,1578.0 517.0,1577.4 518.0,1578.3 519.0,1577.6 520.0,1576.9 521.0,1577.5 522.0,1577.6 523.0,1577.3 524.0,1577.3 525.0,1578.5 526.0,1578.9 527.0,1579.1 528.0,1578.0 529.0,1578.7 530.0,1578.2 531.0,1579.3 532.0,1579.4 533.0,1577.7 533.2,1590.9 533.7,1578.5 534.0,1577.9 535.0,1579.1 536.0,1579.2 537.0,1578.9 538.0,1577.4 539.0,1578.3 540.0,1578.6 541.0,1578.1 542.0,1578.0 543.0,1578.4 544.0,1577.0 545.0,1577.9 546.0,1578.5 547.0,1577.7 548.0,1577.3 549.0,1576.9 550.0,1578.2 551.0,1577.8 552.0,1578.2 553.0,1578.2 554.0,1577.7 555.0,1577.9 556.0,1577.8 557.0,1577.6 558.0,1577.0 559.0,1577.4 560.0,1577.6 561.0,1576.6 562.0,1577.5 563.0,1577.1 564.0,1576.7 565.0,1576.7 566.0,1577.6 567.0,1576.2 568.0,1576.3 569.0,1577.3 570.0,1576.7 571.0,1578.2 572.0,1578.5 573.0,1577.7 574.0,1577.7 575.0,1578.2 576.0,1578.5 577.0,1578.0 578.0,1578.3 579.0,1577.3 580.0,1577.4 581.0,1577.7 582.0,1577.8 583.0,1577.0 584.0,1576.9 585.0,1577.7 586.0,1577.3 587.0,1577.0 588.0,1576.4 589.0,1576.5 590.0,1575.8 591.0,1575.8 592.0,1575.4 593.0,1575.4 594.0,1575.9 595.0,1575.6 596.0,1575.9 595.7,1590.9 596.2,1575.3 597.0,1575.2 598.0,1574.7 599.0,1574.5 600.0,1576.7 600.7,1571.4 601.4,1572.2 602.1,1573.9 602.8,1571.8 603.5,1573.3 604.2,1571.7 604.9,1574.5 605.6,1576.0 606.3,1572.8 606.6,1577.5 606.9,1573.5 607.0,1575.1 607.7,1570.1 608.4,1570.6 609.1,1570.8 609.8,1574.7 610.5,1571.3 611.2,1573.1 611.9,1574.9 612.6,1572.9 612.9,1578.5 613.2,1572.5 613.3,1571.9 614.0,1572.7 614.7,1573.3 615.4,1572.9 616.1,1572.5 616.8,1569.8 617.5,1575.1 618.2,1573.4 618.9,1574.3 619.6,1573.7 620.3,1570.0 621.0,1571.3 621.7,1572.2 622.4,1569.5 623.1,1573.5 623.8,1571.3 624.5,1571.9 625.2,1573.9 625.9,1570.0 626.6,1570.1 627.3,1571.7 628.0,1568.6 628.7,1569.5 629.4,1569.2 630.1,1574.0 630.8,1571.9 631.5,1572.8 632.2,1571.8 632.9,1569.7 633.6,1570.0 634.3,1573.7 635.0,1571.5 635.7,1571.4 636.0,1573.7 636.3,1570.7 636.4,1570.3 637.1,1573.3 637.8,1568.9 638.5,1573.0 639.2,1571.9 639.9,1572.0 640.6,1573.7 641.3,1570.4 642.0,1570.8 642.7,1570.1 643.4,1571.7 644.1,1572.9 644.8,1572.4 645.5,1569.0 646.2,1572.7 646.9,1567.8 647.6,1571.7 648.3,1568.8 649.0,1569.7 649.7,1571.4 650.4,1568.7 651.1,1572.4 651.8,1572.1 652.5,1572.8 653.2,1570.9 653.9,1573.3 654.6,1572.7 655.3,1571.5 656.0,1572.3 656.7,1570.3 657.4,1572.9 658.1,1571.4 658.1,1590.9 658.6,1572.8 658.8,1571.0 659.5,1574.5 660.2,1577.0 660.9,1574.6 661.6,1573.2 662.3,1576.7 663.0,1574.3 663.3,1583.3 663.6,1576.3 663.7,1577.2 664.4,1577.3 665.1,1573.4 665.8,1573.4 666.1,1580.7 666.4,1574.7 666.5,1573.9 667.2,1574.8 667.9,1574.5 668.6,1575.7 669.3,1572.9 670.0,1574.5 670.7,1569.4 671.4,1570.0 672.1,1575.0 672.8,1574.2 673.5,1572.1 674.2,1570.4 674.9,1572.1 675.6,1573.5 676.3,1571.4 677.0,1575.6 677.7,1578.0 678.0,1580.3 678.3,1575.3 678.4,1574.6 679.1,1574.4 679.8,1573.7 680.5,1574.2 681.2,1575.2 681.9,1572.9 682.6,1571.1 683.3,1570.9 684.0,1576.1 684.7,1574.2 685.4,1570.5 686.1,1572.2 686.8,1574.6 687.5,1572.4 688.2,1574.3 688.9,1576.7 689.6,1572.8 690.3,1573.5 691.0,1571.8 691.7,1575.5 692.4,1574.2 693.1,1574.8 693.8,1573.5 694.5,1575.7 695.2,1575.7 695.9,1577.9 696.6,1577.2 697.3,1573.0 698.0,1573.4 698.7,1575.3 699.4,1574.2 700.1,1574.3 700.4,1579.3 700.7,1576.3 700.8,1574.4 701.5,1578.5 702.2,1573.6 702.9,1577.9 703.6,1575.7 704.3,1577.2 705.0,1575.3 705.7,1573.7 706.4,1574.6 707.1,1577.7 707.8,1576.7 708.5,1575.8 709.2,1574.1 709.9,1576.0 710.6,1572.1 711.3,1573.9 712.0,1573.1 712.7,1573.3 713.4,1575.7 714.1,1571.4 714.8,1572.0 715.5,1573.7 716.2,1572.2 716.9,1576.5 717.6,1574.0 718.3,1571.6 719.0,1573.8 719.7,1574.2 720.4,1576.0 720.6,1590.9 721.1,1576.0 721.4,1576.5 722.4,1577.3 723.4,1577.7 724.4,1577.9 725.4,1578.0 726.4,1578.1 727.4,1578.2 728.4,1578.6 729.4,1578.5 730.4,1578.7 731.4,1578.8 732.4,1579.0 733.4,1579.0 734.4,1579.2 735.4,1578.8 736.4,1578.6 737.4,1578.4 738.4,1578.3 739.4,1577.9 740.4,1577.7 741.4,1577.6 742.4,1577.2 743.4,1576.9 744.4,1576.7 745.4,1576.7 746.4,1576.7 747.4,1577.1 748.4,1577.4 749.4,1577.7 750.4,1577.9 751.4,1578.3 752.4,1578.6 753.4,1578.8 754.4,1579.0 755.4,1579.3 756.4,1579.7 757.4,1579.9 758.4,1580.4 759.4,1580.5 760.4,1580.7 761.4,1581.2 762.4,1581.4 763.4,1581.8 764.4,1581.9 765.4,1582.3 766.4,1582.5 767.4,1582.6 768.4,1582.6 769.4,1582.7 770.4,1582.7 771.4,1582.5 772.4,1582.7 773.4,1582.8 774.4,1582.6 775.4,1582.6 776.4,1582.7 777.4,1582.8 778.4,1582.6 779.4,1582.4 780.4,1582.5 781.4,1582.2 782.4,1582.2 783.4,1581.9 783.1,1590.9 783.6,1582.0 784.4,1582.0 785.4,1581.6 786.4,1581.5 787.4,1581.5 788.4,1581.4 789.4,1581.2 790.4,1580.9 791.4,1580.9 792.4,1580.8 793.4,1580.7 794.4,1580.6 795.4,1580.4 796.4,1580.2 797.4,1580.1 798.4,1579.9 799.4,1579.9 800.4,1579.6 801.4,1579.5 802.4,1579.3 803.4,1579.1 804.4,1579.2 805.4,1579.1 806.4,1579.2 807.4,1579.1 808.4,1579.3 809.4,1579.1 810.4,1579.2 811.4,1579.1 812.4,1579.2 813.4,1579.3 814.4,1579.2 815.4,1579.3 816.4,1579.2 817.4,1579.4 818.4,1579.5 819.4,1579.6 820.4,1579.8 821.4,1580.2 822.4,1580.3 823.4,1580.5 824.4,1580.7 825.4,1580.9 826.4,1581.0 827.4,1581.2 828.4,1581.5 829.4,1581.6 830.4,1581.8 831.4,1582.0 832.4,1582.4 833.4,1582.6 834.4,1582.7 835.4,1582.9 836.4,1583.0 837.4,1583.2 838.4,1583.2 839.4,1583.0 840.4,1582.9 841.4,1582.6 842.4,1582.4 843.4,1582.5 844.4,1582.1 845.4,1581.9 845.6,1590.9 846.1,1582.0 846.4,1581.9 847.4,1581.7 848.4,1581.6 849.4,1581.3 850.4,1581.2 851.4,1581.2 852.4,1581.3 853.4,1581.0 854.4,1581.0 855.4,1581.0 856.4,1580.9 857.4,1580.8 858.4,1580.6 859.4,1580.5 860.4,1580.4 861.4,1580.4 862.4,1580.5 863.4,1580.2 864.4,1580.3 865.4,1580.2 866.4,1580.0 867.4,1580.1 868.4,1579.8 869.4,1580.0 870.4,1579.6 871.4,1579.7 872.4,1579.8 873.4,1579.9 874.4,1580.0 875.4,1580.2 876.4,1580.3 877.4,1580.6 878.4,1580.6 879.4,1580.6 880.4,1580.9 881.4,1580.8 882.4,1581.1 883.4,1581.1 884.4,1581.2 885.4,1581.4 886.4,1581.4 887.4,1581.6 888.4,1581.8 889.4,1581.8 890.4,1581.8 891.4,1581.6 892.4,1581.8 893.4,1581.7 894.4,1581.6 895.4,1581.5 896.4,1581.6 897.4,1581.5 898.4,1581.6 899.4,1581.6 900.4,1581.6 901.4,1581.5 902.4,1581.5 903.4,1581.6 904.4,1581.6 905.4,1581.6 906.4,1581.8 907.4,1582.0 908.4,1582.0 908.0,1590.9 908.5,1581.9 909.4,1581.9 910.4,1581.9 911.4,1582.0 912.4,1582.0 913.4,1582.3 914.4,1582.2 915.4,1582.2 916.4,1582.5 917.4,1582.4 918.4,1582.5 919.4,1582.4 920.4,1582.4 921.4,1582.5 922.4,1582.6 923.4,1582.7 924.4,1582.8 925.4,1582.8 926.4,1582.7 927.4,1582.7 928.4,1582.7 929.4,1583.0 930.4,1582.8 931.4,1583.0 932.4,1582.9 933.4,1583.0 934.4,1582.9 935.4,1583.1 936.4,1583.0 937.4,1583.2 938.4,1583.2 939.4,1583.1 940.4,1583.2 941.4,1583.3 942.4,1583.2 943.4,1583.1 944.4,1583.3 945.4,1583.2 946.4,1583.3 947.4,1583.6 948.4,1583.4 949.4,1583.5 950.4,1583.7 951.4,1583.7 952.4,1583.8 953.4,1583.9 954.4,1584.0 955.4,1584.2 956.4,1584.3 957.4,1584.3 958.4,1584.2 959.4,1584.6 960.4,1584.6 961.4,1584.8 962.4,1584.8 963.4,1584.6 964.4,1584.9 965.4,1584.9 966.4,1585.0 967.4,1584.8 968.4,1584.8 969.4,1584.9 970.4,1584.9 970.5,1590.9 971.0,1584.9 971.4,1585.0 972.4,1584.8 973.4,1584.8 974.4,1584.8 975.4,1584.8 976.4,1584.8 977.4,1584.8 978.4,1584.6 979.4,1584.3 980.4,1583.9 981.4,1583.7 982.4,1583.5 983.4,1583.2 984.4,1583.0 985.4,1582.8 986.4,1582.7 987.4,1582.6 988.4,1582.7 989.4,1582.8 990.4,1582.7 991.4,1582.6 992.4,1582.8 993.4,1582.8 994.4,1582.8 995.4,1582.7 996.4,1582.8 997.4,1582.7 998.4,1582.8 999.4,1582.6 1000.4,1582.7 1001.4,1582.6 1002.4,1582.7 1003.4,1582.7 1004.4,1582.7 1005.4,1582.6 1006.4,1582.7 1007.4,1582.6 1008.4,1582.7 1009.4,1582.6 1010.4,1582.6 1011.4,1582.8 1012.4,1582.7 1013.4,1582.7 1014.4,1582.8 1015.4,1583.0 1016.4,1583.0 1017.4,1583.0 1018.4,1582.9 1019.4,1583.0 1020.4,1583.0 1021.4,1583.1 1022.4,1583.2 1023.4,1583.2 1024.4,1583.3 1025.4,1583.2 1026.4,1583.2 1027.4,1583.4 1028.4,1583.4 1029.4,1583.4 1030.4,1583.4 1031.4,1583.5 1032.4,1583.4 1033.4,1583.6 1033.0,1590.9 1033.5,1583.5 1034.4,1583.4 1035.4,1583.6 1036.4,1583.6 1037.4,1583.6 1038.4,1583.4 1039.4,1583.6 1040.4,1583.7 1041.4,1583.7 1042.4,1583.5 1043.4,1583.7 1044.4,1583.6 1045.4,1583.7 1046.4,1583.7 1047.4,1583.8 1048.4,1583.6 1049.4,1583.9 1050.4,1583.7 1051.4,1583.9 1052.4,1583.8 1053.4,1583.9 1054.4,1583.7 1055.4,1583.7 1056.4,1583.8 1057.4,1584.0 1058.4,1584.1 1059.4,1584.0 1060.4,1584.3 1061.4,1584.4 1062.4,1584.5 1063.4,1584.5 1064.4,1584.6 1065.4,1584.8 1066.4,1584.7 1067.4,1584.9 1068.4,1584.9 1069.4,1585.3 1070.4,1585.4 1071.4,1585.4 1072.4,1585.6 1073.4,1585.7 1074.4,1585.7 1075.4,1586.0 1076.4,1586.0 1077.4,1586.2 1078.4,1586.3 1079.4,1586.3 1080.4,1586.6 1081.4,1586.7 1082.4,1586.9 1083.4,1586.8 1084.4,1587.1 1085.4,1587.2 1086.4,1587.1 1087.4,1587.2 1088.4,1587.2 1089.4,1587.0 1090.4,1587.1 1091.4,1587.0 1092.4,1586.9 1093.4,1587.0 1094.4,1587.0 1095.4,1586.9 1095.5,1590.9 1096.0,1586.9 1096.4,1586.9 1097.4,1586.7 1098.4,1586.7 1099.4,1586.7 1100.4,1586.8 1101.4,1586.6 1102.4,1586.7 1103.4,1586.5 1104.4,1586.6 1105.4,1586.6 1106.4,1586.5 1107.4,1586.7 1108.4,1586.6 1109.4,1586.4 1110.4,1586.4 1111.4,1586.5 1112.4,1586.5 1113.4,1586.6 1114.4,1586.5 1115.4,1586.6 1116.4,1586.4 1117.4,1586.4 1118.4,1586.5 1119.4,1586.4 1120.4,1586.6 1121.4,1586.6 1122.4,1586.6 1123.4,1586.4 1124.4,1586.4 1125.4,1586.4 1126.4,1586.4 1127.4,1586.5 1128.4,1586.4 1129.4,1586.5 1130.4,1586.5 1131.4,1586.4 1132.4,1586.4 1133.4,1586.4 1134.4,1586.6 1135.4,1586.4 1136.4,1586.6 1137.4,1586.5 1138.4,1586.5 1139.4,1586.7 1140.4,1586.6 1141.4,1586.9 1142.4,1586.9 1143.4,1587.0 1144.4,1587.2 1145.4,1587.3 1146.4,1587.1 1147.4,1586.9 1148.4,1586.9 1149.4,1586.6 1150.4,1586.4 1151.4,1586.4 1152.4,1586.2 1153.4,1586.2 1154.4,1586.2 1155.4,1586.2 1156.4,1586.0 1157.4,1586.0 1158.4,1586.1 1157.9,1590.9 1158.4,1586.0 1159.4,1585.9 1160.4,1586.1 1161.4,1585.9 1162.4,1586.0 1163.4,1585.8 1164.4,1586.0 1165.4,1585.8 1166.4,1585.8 1167.4,1585.8 1168.4,1585.6 1169.4,1585.7 1170.4,1585.6 1171.4,1585.6 1172.4,1585.7 1173.4,1585.4 1174.4,1585.4 1175.4,1585.5 1176.4,1585.3 1177.4,1585.5 1178.4,1585.3 1179.4,1585.2 1180.4,1585.2 1181.4,1585.3 1182.4,1585.4 1183.4,1585.4 1184.4,1585.2 1185.4,1585.3 1186.4,1585.4 1187.4,1585.3 1188.4,1585.3 1189.4,1585.2 1190.4,1585.1 1191.4,1585.3 1192.4,1585.2 1193.4,1585.3 1194.4,1585.2 1195.4,1585.1 1196.4,1585.1 1197.4,1585.1 1198.4,1585.1 1199.4,1585.3 1200.4,1585.1 1201.4,1585.0 1202.4,1585.3 1203.4,1585.0 1204.4,1585.1 1205.4,1585.2 1206.4,1585.2 1207.4,1584.9 1208.4,1585.0 1209.4,1585.0 1210.4,1585.0 1211.4,1585.0 1212.4,1585.1 1213.4,1584.9 1214.4,1585.2 1215.4,1584.9 1216.4,1585.1 1217.4,1584.9 1218.4,1585.1 1219.4,1584.9 1220.4,1584.9 1220.4,1590.9 1220.9,1585.0 1221.4,1584.9 1222.4,1585.1 1223.4,1585.1 1224.4,1584.9 1225.4,1584.9 1226.4,1584.9 1227.4,1584.8 1228.4,1585.0 1229.4,1584.8 1230.4,1584.8 1231.4,1584.9 1232.4,1584.8 1233.4,1585.0 1234.4,1584.8 1235.4,1584.9 1236.4,1584.8 1237.4,1584.9 1238.4,1584.8 1239.4,1584.9 1240.4,1584.8 1241.4,1584.9 1242.4,1584.6 1243.4,1584.9 1244.4,1584.7 1245.4,1584.8 1246.4,1584.9 1247.4,1584.7 1248.4,1584.7 1249.4,1584.8 1250.4,1584.7 1251.4,1584.6 1252.4,1584.4 1253.4,1584.6 1254.4,1584.2 1255.4,1584.3 1256.0,1584.2 1256.0,1590.6 1266.8,1590.6 1266.8,1609.2 1266.8,1539.5 1287.7,1539.5" fill="none" stroke="#f00" stroke-width="2" stroke-linejoin="miter" shape-rendering="crispEdges"/><line x1="116.25" y1="1539.3" x2="1303" y2="1539.3" stroke="#000" stroke-width="1.8" stroke-dasharray="4,7.02"/><rect x="116" y="1421" width="1189" height="2" fill="#000"/><rect x="116" y="1656" width="1189" height="2" fill="#000"/><rect x="116" y="1421" width="1" height="237" fill="#000"/><rect x="1303" y="1421" width="2" height="237" fill="#000"/><line x1="116" y1="1657.00" x2="141" y2="1657.00" stroke="#000" stroke-width="1.5" shape-rendering="crispEdges"/><line x1="1279" y1="1657.00" x2="1304" y2="1657.00" stroke="#000" stroke-width="1.5" shape-rendering="crispEdges"/><line x1="116" y1="1639.03" x2="141" y2="1639.03" stroke="#000" stroke-width="1.5" shape-rendering="crispEdges"/><line x1="1279" y1="1639.03" x2="1304" y2="1639.03" stroke="#000" stroke-width="1.5" shape-rendering="crispEdges"/><line x1="116" y1="1621.07" x2="141" y2="1621.07" stroke="#000" stroke-width="1.5" shape-rendering="crispEdges"/><line x1="1279" y1="1621.07" x2="1304" y2="1621.07" stroke="#000" stroke-width="1.5" shape-rendering="crispEdges"/><line x1="116" y1="1603.10" x2="141" y2="1603.10" stroke="#000" stroke-width="1.5" shape-rendering="crispEdges"/><line x1="1279" y1="1603.10" x2="1304" y2="1603.10" stroke="#000" stroke-width="1.5" shape-rendering="crispEdges"/><line x1="116" y1="1585.13" x2="141" y2="1585.13" stroke="#000" stroke-width="1.5" shape-rendering="crispEdges"/><line x1="1279" y1="1585.13" x2="1304" y2="1585.13" stroke="#000" stroke-width="1.5" shape-rendering="crispEdges"/><line x1="116" y1="1567.16" x2="141" y2="1567.16" stroke="#000" stroke-width="1.5" shape-rendering="crispEdges"/><line x1="1279" y1="1567.16" x2="1304" y2="1567.16" stroke="#000" stroke-width="1.5" shape-rendering="crispEdges"/><line x1="116" y1="1549.20" x2="141" y2="1549.20" stroke="#000" stroke-width="1.5" shape-rendering="crispEdges"/><line x1="1279" y1="1549.20" x2="1304" y2="1549.20" stroke="#000" stroke-width="1.5" shape-rendering="crispEdges"/><line x1="116" y1="1531.23" x2="141" y2="1531.23" stroke="#000" stroke-width="1.5" shape-rendering="crispEdges"/><line x1="1279" y1="1531.23" x2="1304" y2="1531.23" stroke="#000" stroke-width="1.5" shape-rendering="crispEdges"/><line x1="116" y1="1513.26" x2="141" y2="1513.26" stroke="#000" stroke-width="1.5" shape-rendering="crispEdges"/><line x1="1279" y1="1513.26" x2="1304" y2="1513.26" stroke="#000" stroke-width="1.5" shape-rendering="crispEdges"/><line x1="116" y1="1495.29" x2="141" y2="1495.29" stroke="#000" stroke-width="1.5" shape-rendering="crispEdges"/><line x1="1279" y1="1495.29" x2="1304" y2="1495.29" stroke="#000" stroke-width="1.5" shape-rendering="crispEdges"/><line x1="116" y1="1477.33" x2="141" y2="1477.33" stroke="#000" stroke-width="1.5" shape-rendering="crispEdges"/><line x1="1279" y1="1477.33" x2="1304" y2="1477.33" stroke="#000" stroke-width="1.5" shape-rendering="crispEdges"/><line x1="116" y1="1459.36" x2="141" y2="1459.36" stroke="#000" stroke-width="1.5" shape-rendering="crispEdges"/><line x1="1279" y1="1459.36" x2="1304" y2="1459.36" stroke="#000" stroke-width="1.5" shape-rendering="crispEdges"/><line x1="116" y1="1441.39" x2="141" y2="1441.39" stroke="#000" stroke-width="1.5" shape-rendering="crispEdges"/><line x1="1279" y1="1441.39" x2="1304" y2="1441.39" stroke="#000" stroke-width="1.5" shape-rendering="crispEdges"/><line x1="116" y1="1423.42" x2="141" y2="1423.42" stroke="#000" stroke-width="1.5" shape-rendering="crispEdges"/><line x1="1279" y1="1423.42" x2="1304" y2="1423.42" stroke="#000" stroke-width="1.5" shape-rendering="crispEdges"/><line x1="116" y1="1421.50" x2="141" y2="1421.50" stroke="#000" stroke-width="1.5" shape-rendering="crispEdges"/><line x1="1279" y1="1421.50" x2="1304" y2="1421.50" stroke="#000" stroke-width="1.5" shape-rendering="crispEdges"/><rect x="177.97" y="1423" width="2" height="4" fill="#000"/><rect x="177.97" y="1652" width="2" height="4" fill="#000"/><rect x="240.45" y="1423" width="2" height="4" fill="#000"/><rect x="240.45" y="1652" width="2" height="4" fill="#000"/><rect x="302.92" y="1423" width="2" height="4" fill="#000"/><rect x="302.92" y="1652" width="2" height="4" fill="#000"/><rect x="365.39" y="1423" width="2" height="4" fill="#000"/><rect x="365.39" y="1652" width="2" height="4" fill="#000"/><rect x="427.87" y="1423" width="2" height="4" fill="#000"/><rect x="427.87" y="1652" width="2" height="4" fill="#000"/><rect x="490.34" y="1423" width="2" height="4" fill="#000"/><rect x="490.34" y="1652" width="2" height="4" fill="#000"/><rect x="552.82" y="1423" width="2" height="4" fill="#000"/><rect x="552.82" y="1652" width="2" height="4" fill="#000"/><rect x="615.29" y="1423" width="2" height="4" fill="#000"/><rect x="615.29" y="1652" width="2" height="4" fill="#000"/><rect x="677.76" y="1423" width="2" height="4" fill="#000"/><rect x="677.76" y="1652" width="2" height="4" fill="#000"/><rect x="740.24" y="1423" width="2" height="4" fill="#000"/><rect x="740.24" y="1652" width="2" height="4" fill="#000"/><rect x="802.71" y="1423" width="2" height="4" fill="#000"/><rect x="802.71" y="1652" width="2" height="4" fill="#000"/><rect x="865.18" y="1423" width="2" height="4" fill="#000"/><rect x="865.18" y="1652" width="2" height="4" fill="#000"/><rect x="927.66" y="1423" width="2" height="4" fill="#000"/><rect x="927.66" y="1652" width="2" height="4" fill="#000"/><rect x="990.13" y="1423" width="2" height="4" fill="#000"/><rect x="990.13" y="1652" width="2" height="4" fill="#000"/><rect x="1052.61" y="1423" width="2" height="4" fill="#000"/><rect x="1052.61" y="1652" width="2" height="4" fill="#000"/><rect x="1115.08" y="1423" width="2" height="4" fill="#000"/><rect x="1115.08" y="1652" width="2" height="4" fill="#000"/><rect x="1177.55" y="1423" width="2" height="4" fill="#000"/><rect x="1177.55" y="1652" width="2" height="4" fill="#000"/><rect x="1240.03" y="1423" width="2" height="4" fill="#000"/><rect x="1240.03" y="1652" width="2" height="4" fill="#000"/><text x="110.5" y="1657.0" font-size="22" text-anchor="end">0</text><text x="110.5" y="1629.1" font-size="22" text-anchor="end">10000</text><text x="110.5" y="1593.1" font-size="22" text-anchor="end">20000</text><text x="110.5" y="1557.2" font-size="22" text-anchor="end">30000</text><text x="110.5" y="1521.3" font-size="22" text-anchor="end">40000</text><text x="110.5" y="1485.3" font-size="22" text-anchor="end">50000</text><text x="110.5" y="1449.4" font-size="22" text-anchor="end">60000</text><text x="110.5" y="1434.8" font-size="22" text-anchor="end">65535</text><text x="116.5" y="1685.0" font-size="22" text-anchor="middle">13</text><text x="179.0" y="1685.0" font-size="22" text-anchor="middle">14</text><text x="241.4" y="1685.0" font-size="22" text-anchor="middle">15</text><text x="303.9" y="1685.0" font-size="22" text-anchor="middle">16</text><text x="366.4" y="1685.0" font-size="22" text-anchor="middle">17</text><text x="428.9" y="1685.0" font-size="22" text-anchor="middle">18</text><text x="491.3" y="1685.0" font-size="22" text-anchor="middle">19</text><text x="553.8" y="1685.0" font-size="22" text-anchor="middle">20</text><text x="616.3" y="1685.0" font-size="22" text-anchor="middle">21</text><text x="678.8" y="1685.0" font-size="22" text-anchor="middle">22</text><text x="741.2" y="1685.0" font-size="22" text-anchor="middle">23</text><text x="803.7" y="1685.0" font-size="22" text-anchor="middle">0</text><text x="866.2" y="1685.0" font-size="22" text-anchor="middle">1</text><text x="928.7" y="1685.0" font-size="22" text-anchor="middle">2</text><text x="991.1" y="1685.0" font-size="22" text-anchor="middle">3</text><text x="1053.6" y="1685.0" font-size="22" text-anchor="middle">4</text><text x="1116.1" y="1685.0" font-size="22" text-anchor="middle">5</text><text x="1178.6" y="1685.0" font-size="22" text-anchor="middle">6</text><text x="1241.0" y="1685.0" font-size="22" text-anchor="middle">7</text><text x="1303.5" y="1685.0" font-size="22" text-anchor="middle">8</text><text x="710" y="1709.0" font-size="22" text-anchor="middle">Time (UT)</text><text x="709.5" y="1410.7" font-size="27.6" text-anchor="middle">844.6 nm (HV = 75)</text><text transform="translate(31.0,1539.30) rotate(-90)" font-size="22.6" text-anchor="middle">Counts</text><text x="1250.5" y="1468.2" font-size="44" text-anchor="end" style="stroke-width:0.9px">844.6 nm</text></g>
</svg></body></html>
